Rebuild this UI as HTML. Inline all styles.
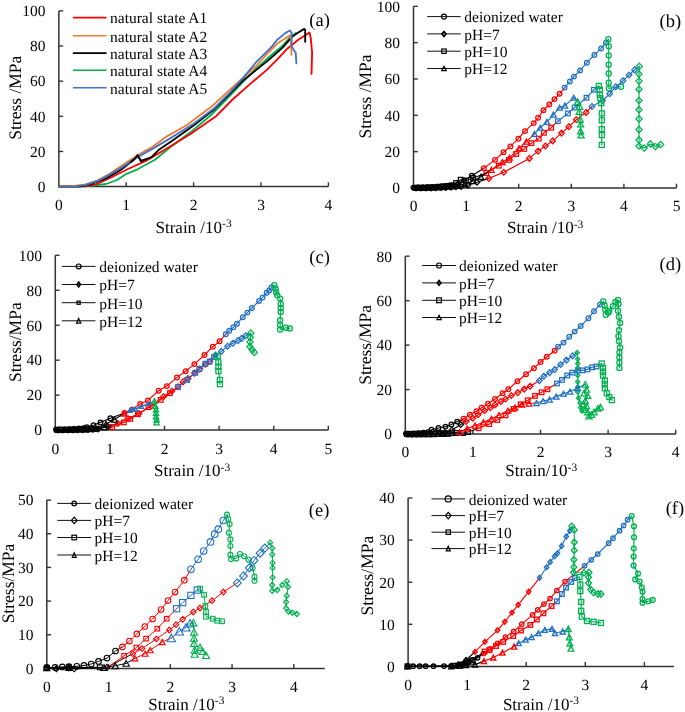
<!DOCTYPE html>
<html><head><meta charset="utf-8"><style>html,body{margin:0;padding:0;background:#fff;}svg{display:block;will-change:transform;}text{text-rendering:geometricPrecision;}</style></head>
<body><svg width="685" height="712" viewBox="0 0 685 712">
<rect width="685" height="712" fill="#fff"/>
<path d="M58.85 10.90V186.60H328.40" fill="none" stroke="#333" stroke-width="1.5"/>
<text x="45.45" y="191.90" text-anchor="end" font-family="Liberation Serif" font-size="15.5">0</text>
<path d="M58.85 151.46h4.3" stroke="#333" stroke-width="1.4"/>
<text x="45.45" y="156.76" text-anchor="end" font-family="Liberation Serif" font-size="15.5">20</text>
<path d="M58.85 116.32h4.3" stroke="#333" stroke-width="1.4"/>
<text x="45.45" y="121.62" text-anchor="end" font-family="Liberation Serif" font-size="15.5">40</text>
<path d="M58.85 81.18h4.3" stroke="#333" stroke-width="1.4"/>
<text x="45.45" y="86.48" text-anchor="end" font-family="Liberation Serif" font-size="15.5">60</text>
<path d="M58.85 46.04h4.3" stroke="#333" stroke-width="1.4"/>
<text x="45.45" y="51.34" text-anchor="end" font-family="Liberation Serif" font-size="15.5">80</text>
<path d="M58.85 10.90h4.3" stroke="#333" stroke-width="1.4"/>
<text x="45.45" y="16.20" text-anchor="end" font-family="Liberation Serif" font-size="15.5">100</text>
<text x="58.85" y="210.00" text-anchor="middle" font-family="Liberation Serif" font-size="15.5">0</text>
<path d="M126.24 186.60v-4.3" stroke="#333" stroke-width="1.4"/>
<text x="126.24" y="210.00" text-anchor="middle" font-family="Liberation Serif" font-size="15.5">1</text>
<path d="M193.62 186.60v-4.3" stroke="#333" stroke-width="1.4"/>
<text x="193.62" y="210.00" text-anchor="middle" font-family="Liberation Serif" font-size="15.5">2</text>
<path d="M261.01 186.60v-4.3" stroke="#333" stroke-width="1.4"/>
<text x="261.01" y="210.00" text-anchor="middle" font-family="Liberation Serif" font-size="15.5">3</text>
<path d="M328.40 186.60v-4.3" stroke="#333" stroke-width="1.4"/>
<text x="328.40" y="210.00" text-anchor="middle" font-family="Liberation Serif" font-size="15.5">4</text>
<path d="M413.50 6.30V188.00H676.50" fill="none" stroke="#333" stroke-width="1.5"/>
<text x="400.10" y="193.30" text-anchor="end" font-family="Liberation Serif" font-size="15.5">0</text>
<path d="M413.50 151.66h4.3" stroke="#333" stroke-width="1.4"/>
<text x="400.10" y="156.96" text-anchor="end" font-family="Liberation Serif" font-size="15.5">20</text>
<path d="M413.50 115.32h4.3" stroke="#333" stroke-width="1.4"/>
<text x="400.10" y="120.62" text-anchor="end" font-family="Liberation Serif" font-size="15.5">40</text>
<path d="M413.50 78.98h4.3" stroke="#333" stroke-width="1.4"/>
<text x="400.10" y="84.28" text-anchor="end" font-family="Liberation Serif" font-size="15.5">60</text>
<path d="M413.50 42.64h4.3" stroke="#333" stroke-width="1.4"/>
<text x="400.10" y="47.94" text-anchor="end" font-family="Liberation Serif" font-size="15.5">80</text>
<path d="M413.50 6.30h4.3" stroke="#333" stroke-width="1.4"/>
<text x="400.10" y="11.60" text-anchor="end" font-family="Liberation Serif" font-size="15.5">100</text>
<text x="413.50" y="211.40" text-anchor="middle" font-family="Liberation Serif" font-size="15.5">0</text>
<path d="M466.10 188.00v-4.3" stroke="#333" stroke-width="1.4"/>
<text x="466.10" y="211.40" text-anchor="middle" font-family="Liberation Serif" font-size="15.5">1</text>
<path d="M518.70 188.00v-4.3" stroke="#333" stroke-width="1.4"/>
<text x="518.70" y="211.40" text-anchor="middle" font-family="Liberation Serif" font-size="15.5">2</text>
<path d="M571.30 188.00v-4.3" stroke="#333" stroke-width="1.4"/>
<text x="571.30" y="211.40" text-anchor="middle" font-family="Liberation Serif" font-size="15.5">3</text>
<path d="M623.90 188.00v-4.3" stroke="#333" stroke-width="1.4"/>
<text x="623.90" y="211.40" text-anchor="middle" font-family="Liberation Serif" font-size="15.5">4</text>
<path d="M676.50 188.00v-4.3" stroke="#333" stroke-width="1.4"/>
<text x="676.50" y="211.40" text-anchor="middle" font-family="Liberation Serif" font-size="15.5">5</text>
<path d="M55.30 255.30V430.10H328.30" fill="none" stroke="#333" stroke-width="1.5"/>
<text x="41.90" y="435.40" text-anchor="end" font-family="Liberation Serif" font-size="15.5">0</text>
<path d="M55.30 395.14h4.3" stroke="#333" stroke-width="1.4"/>
<text x="41.90" y="400.44" text-anchor="end" font-family="Liberation Serif" font-size="15.5">20</text>
<path d="M55.30 360.18h4.3" stroke="#333" stroke-width="1.4"/>
<text x="41.90" y="365.48" text-anchor="end" font-family="Liberation Serif" font-size="15.5">40</text>
<path d="M55.30 325.22h4.3" stroke="#333" stroke-width="1.4"/>
<text x="41.90" y="330.52" text-anchor="end" font-family="Liberation Serif" font-size="15.5">60</text>
<path d="M55.30 290.26h4.3" stroke="#333" stroke-width="1.4"/>
<text x="41.90" y="295.56" text-anchor="end" font-family="Liberation Serif" font-size="15.5">80</text>
<path d="M55.30 255.30h4.3" stroke="#333" stroke-width="1.4"/>
<text x="41.90" y="260.60" text-anchor="end" font-family="Liberation Serif" font-size="15.5">100</text>
<text x="55.30" y="453.50" text-anchor="middle" font-family="Liberation Serif" font-size="15.5">0</text>
<path d="M109.90 430.10v-4.3" stroke="#333" stroke-width="1.4"/>
<text x="109.90" y="453.50" text-anchor="middle" font-family="Liberation Serif" font-size="15.5">1</text>
<path d="M164.50 430.10v-4.3" stroke="#333" stroke-width="1.4"/>
<text x="164.50" y="453.50" text-anchor="middle" font-family="Liberation Serif" font-size="15.5">2</text>
<path d="M219.10 430.10v-4.3" stroke="#333" stroke-width="1.4"/>
<text x="219.10" y="453.50" text-anchor="middle" font-family="Liberation Serif" font-size="15.5">3</text>
<path d="M273.70 430.10v-4.3" stroke="#333" stroke-width="1.4"/>
<text x="273.70" y="453.50" text-anchor="middle" font-family="Liberation Serif" font-size="15.5">4</text>
<path d="M328.30 430.10v-4.3" stroke="#333" stroke-width="1.4"/>
<text x="328.30" y="453.50" text-anchor="middle" font-family="Liberation Serif" font-size="15.5">5</text>
<path d="M405.30 256.20V434.00H675.70" fill="none" stroke="#333" stroke-width="1.5"/>
<text x="391.90" y="439.30" text-anchor="end" font-family="Liberation Serif" font-size="15.5">0</text>
<path d="M405.30 389.55h4.3" stroke="#333" stroke-width="1.4"/>
<text x="391.90" y="394.85" text-anchor="end" font-family="Liberation Serif" font-size="15.5">20</text>
<path d="M405.30 345.10h4.3" stroke="#333" stroke-width="1.4"/>
<text x="391.90" y="350.40" text-anchor="end" font-family="Liberation Serif" font-size="15.5">40</text>
<path d="M405.30 300.65h4.3" stroke="#333" stroke-width="1.4"/>
<text x="391.90" y="305.95" text-anchor="end" font-family="Liberation Serif" font-size="15.5">60</text>
<path d="M405.30 256.20h4.3" stroke="#333" stroke-width="1.4"/>
<text x="391.90" y="261.50" text-anchor="end" font-family="Liberation Serif" font-size="15.5">80</text>
<text x="405.30" y="457.40" text-anchor="middle" font-family="Liberation Serif" font-size="15.5">0</text>
<path d="M472.90 434.00v-4.3" stroke="#333" stroke-width="1.4"/>
<text x="472.90" y="457.40" text-anchor="middle" font-family="Liberation Serif" font-size="15.5">1</text>
<path d="M540.50 434.00v-4.3" stroke="#333" stroke-width="1.4"/>
<text x="540.50" y="457.40" text-anchor="middle" font-family="Liberation Serif" font-size="15.5">2</text>
<path d="M608.10 434.00v-4.3" stroke="#333" stroke-width="1.4"/>
<text x="608.10" y="457.40" text-anchor="middle" font-family="Liberation Serif" font-size="15.5">3</text>
<path d="M675.70 434.00v-4.3" stroke="#333" stroke-width="1.4"/>
<text x="675.70" y="457.40" text-anchor="middle" font-family="Liberation Serif" font-size="15.5">4</text>
<path d="M46.80 500.10V668.40H324.70" fill="none" stroke="#333" stroke-width="1.5"/>
<text x="33.40" y="673.70" text-anchor="end" font-family="Liberation Serif" font-size="15.5">0</text>
<path d="M46.80 634.74h4.3" stroke="#333" stroke-width="1.4"/>
<text x="33.40" y="640.04" text-anchor="end" font-family="Liberation Serif" font-size="15.5">10</text>
<path d="M46.80 601.08h4.3" stroke="#333" stroke-width="1.4"/>
<text x="33.40" y="606.38" text-anchor="end" font-family="Liberation Serif" font-size="15.5">20</text>
<path d="M46.80 567.42h4.3" stroke="#333" stroke-width="1.4"/>
<text x="33.40" y="572.72" text-anchor="end" font-family="Liberation Serif" font-size="15.5">30</text>
<path d="M46.80 533.76h4.3" stroke="#333" stroke-width="1.4"/>
<text x="33.40" y="539.06" text-anchor="end" font-family="Liberation Serif" font-size="15.5">40</text>
<path d="M46.80 500.10h4.3" stroke="#333" stroke-width="1.4"/>
<text x="33.40" y="505.40" text-anchor="end" font-family="Liberation Serif" font-size="15.5">50</text>
<text x="46.80" y="691.80" text-anchor="middle" font-family="Liberation Serif" font-size="15.5">0</text>
<path d="M108.56 668.40v-4.3" stroke="#333" stroke-width="1.4"/>
<text x="108.56" y="691.80" text-anchor="middle" font-family="Liberation Serif" font-size="15.5">1</text>
<path d="M170.31 668.40v-4.3" stroke="#333" stroke-width="1.4"/>
<text x="170.31" y="691.80" text-anchor="middle" font-family="Liberation Serif" font-size="15.5">2</text>
<path d="M232.07 668.40v-4.3" stroke="#333" stroke-width="1.4"/>
<text x="232.07" y="691.80" text-anchor="middle" font-family="Liberation Serif" font-size="15.5">3</text>
<path d="M293.82 668.40v-4.3" stroke="#333" stroke-width="1.4"/>
<text x="293.82" y="691.80" text-anchor="middle" font-family="Liberation Serif" font-size="15.5">4</text>
<path d="M408.10 498.00V666.40H673.90" fill="none" stroke="#333" stroke-width="1.5"/>
<text x="394.70" y="671.70" text-anchor="end" font-family="Liberation Serif" font-size="15.5">0</text>
<path d="M408.10 624.30h4.3" stroke="#333" stroke-width="1.4"/>
<text x="394.70" y="629.60" text-anchor="end" font-family="Liberation Serif" font-size="15.5">10</text>
<path d="M408.10 582.20h4.3" stroke="#333" stroke-width="1.4"/>
<text x="394.70" y="587.50" text-anchor="end" font-family="Liberation Serif" font-size="15.5">20</text>
<path d="M408.10 540.10h4.3" stroke="#333" stroke-width="1.4"/>
<text x="394.70" y="545.40" text-anchor="end" font-family="Liberation Serif" font-size="15.5">30</text>
<path d="M408.10 498.00h4.3" stroke="#333" stroke-width="1.4"/>
<text x="394.70" y="503.30" text-anchor="end" font-family="Liberation Serif" font-size="15.5">40</text>
<text x="408.10" y="689.80" text-anchor="middle" font-family="Liberation Serif" font-size="15.5">0</text>
<path d="M467.17 666.40v-4.3" stroke="#333" stroke-width="1.4"/>
<text x="467.17" y="689.80" text-anchor="middle" font-family="Liberation Serif" font-size="15.5">1</text>
<path d="M526.23 666.40v-4.3" stroke="#333" stroke-width="1.4"/>
<text x="526.23" y="689.80" text-anchor="middle" font-family="Liberation Serif" font-size="15.5">2</text>
<path d="M585.30 666.40v-4.3" stroke="#333" stroke-width="1.4"/>
<text x="585.30" y="689.80" text-anchor="middle" font-family="Liberation Serif" font-size="15.5">3</text>
<path d="M644.37 666.40v-4.3" stroke="#333" stroke-width="1.4"/>
<text x="644.37" y="689.80" text-anchor="middle" font-family="Liberation Serif" font-size="15.5">4</text>
<text x="193.60" y="232.70" text-anchor="middle" font-family="Liberation Serif" font-size="17">Strain /10<tspan font-size="11.5" dy="-5.5">-3</tspan></text>
<text x="545.20" y="233.00" text-anchor="middle" font-family="Liberation Serif" font-size="17">Strain /10<tspan font-size="11.5" dy="-5.5">-3</tspan></text>
<text x="192.10" y="476.30" text-anchor="middle" font-family="Liberation Serif" font-size="17">Strain /10<tspan font-size="11.5" dy="-5.5">-3</tspan></text>
<text x="541.20" y="476.30" text-anchor="middle" font-family="Liberation Serif" font-size="17">Strain/10<tspan font-size="11.5" dy="-5.5">-3</tspan></text>
<text x="186.30" y="709.70" text-anchor="middle" font-family="Liberation Serif" font-size="17">Strain /10<tspan font-size="11.5" dy="-5.5">-3</tspan></text>
<text x="541.00" y="709.70" text-anchor="middle" font-family="Liberation Serif" font-size="17">Strain /10<tspan font-size="11.5" dy="-5.5">-3</tspan></text>
<text transform="translate(21.30 97.75) rotate(-90)" x="0" y="0" text-anchor="middle" font-family="Liberation Serif" font-size="17.5">Stress /MPa</text>
<text transform="translate(371.30 96.50) rotate(-90)" x="0" y="0" text-anchor="middle" font-family="Liberation Serif" font-size="17.5">Stress /MPa</text>
<text transform="translate(21.30 342.20) rotate(-90)" x="0" y="0" text-anchor="middle" font-family="Liberation Serif" font-size="17.5">Stress/MPa</text>
<text transform="translate(371.30 344.90) rotate(-90)" x="0" y="0" text-anchor="middle" font-family="Liberation Serif" font-size="17.5">Stress/MPa</text>
<text transform="translate(13.50 583.50) rotate(-90)" x="0" y="0" text-anchor="middle" font-family="Liberation Serif" font-size="17.5">Stress/MPa</text>
<text transform="translate(373.30 575.60) rotate(-90)" x="0" y="0" text-anchor="middle" font-family="Liberation Serif" font-size="17.5">Stress/MPa</text>
<text x="309.30" y="26.30" font-family="Liberation Serif" font-size="18.5">(a)</text>
<text x="659.50" y="26.60" font-family="Liberation Serif" font-size="18.5">(b)</text>
<text x="309.30" y="263.00" font-family="Liberation Serif" font-size="18.5">(c)</text>
<text x="659.50" y="269.90" font-family="Liberation Serif" font-size="18.5">(d)</text>
<text x="308.80" y="515.80" font-family="Liberation Serif" font-size="18.5">(e)</text>
<text x="665.70" y="513.60" font-family="Liberation Serif" font-size="18.5">(f)</text>
<path d="M72.9 17.60H106.5" stroke="#FF0000" stroke-width="1.6"/>
<text x="110" y="23.40" font-family="Liberation Serif" font-size="15.5">natural state A1</text>
<path d="M72.9 35.70H106.5" stroke="#ED7D31" stroke-width="1.6"/>
<text x="110" y="41.50" font-family="Liberation Serif" font-size="15.5">natural state A2</text>
<path d="M72.9 53.10H106.5" stroke="#000000" stroke-width="1.6"/>
<text x="110" y="58.90" font-family="Liberation Serif" font-size="15.5">natural state A3</text>
<path d="M72.9 70.20H106.5" stroke="#00B050" stroke-width="1.6"/>
<text x="110" y="76.00" font-family="Liberation Serif" font-size="15.5">natural state A4</text>
<path d="M72.9 87.80H106.5" stroke="#4472C4" stroke-width="1.6"/>
<text x="110" y="93.60" font-family="Liberation Serif" font-size="15.5">natural state A5</text>
<path d="M427.20 16.60H460.70" stroke="#111" stroke-width="1.0"/>
<circle cx="443.95" cy="16.60" r="2.50" fill="none" stroke="#000" stroke-width="1.2"/>
<text x="464.30" y="22.40" font-family="Liberation Serif" font-size="15.5">deionized water</text>
<path d="M427.20 33.90H460.70" stroke="#111" stroke-width="1.0"/>
<path d="M443.95 31.40L446.05 33.90L443.95 36.40L441.85 33.90Z" fill="none" stroke="#000" stroke-width="1.6"/>
<text x="464.30" y="39.70" font-family="Liberation Serif" font-size="15.5">pH=7</text>
<path d="M427.20 51.20H460.70" stroke="#111" stroke-width="1.0"/>
<rect x="441.75" y="49.00" width="4.40" height="4.40" fill="none" stroke="#000" stroke-width="1.2"/>
<text x="464.30" y="57.00" font-family="Liberation Serif" font-size="15.5">pH=10</text>
<path d="M427.20 68.50H460.70" stroke="#111" stroke-width="1.0"/>
<path d="M443.95 66.30L446.25 70.70L441.65 70.70Z" fill="none" stroke="#000" stroke-width="1.2" stroke-linejoin="miter"/>
<text x="464.30" y="74.30" font-family="Liberation Serif" font-size="15.5">pH=12</text>
<path d="M61.80 266.40H95.50" stroke="#111" stroke-width="1.0"/>
<circle cx="78.65" cy="266.40" r="2.40" fill="none" stroke="#000" stroke-width="1.2"/>
<text x="99.30" y="272.20" font-family="Liberation Serif" font-size="15.5">deionized water</text>
<path d="M61.80 284.50H95.50" stroke="#111" stroke-width="1.0"/>
<path d="M78.65 282.10L80.45 284.50L78.65 286.90L76.85 284.50Z" fill="none" stroke="#000" stroke-width="1.6"/>
<text x="99.30" y="290.30" font-family="Liberation Serif" font-size="15.5">pH=7</text>
<path d="M61.80 302.70H95.50" stroke="#111" stroke-width="1.0"/>
<rect x="77.05" y="301.10" width="3.20" height="3.20" fill="none" stroke="#000" stroke-width="1.2"/>
<text x="99.30" y="308.50" font-family="Liberation Serif" font-size="15.5">pH=10</text>
<path d="M61.80 320.80H95.50" stroke="#111" stroke-width="1.0"/>
<path d="M78.65 318.50L80.75 323.10L76.55 323.10Z" fill="none" stroke="#000" stroke-width="1.2" stroke-linejoin="miter"/>
<text x="99.30" y="326.60" font-family="Liberation Serif" font-size="15.5">pH=12</text>
<path d="M422.10 265.50H456.00" stroke="#111" stroke-width="1.0"/>
<circle cx="439.05" cy="265.50" r="2.50" fill="none" stroke="#000" stroke-width="1.2"/>
<text x="459.00" y="271.30" font-family="Liberation Serif" font-size="15.5">deionized water</text>
<path d="M422.10 282.90H456.00" stroke="#111" stroke-width="1.0"/>
<path d="M439.05 280.60L440.85 282.90L439.05 285.20L437.25 282.90Z" fill="none" stroke="#000" stroke-width="1.7"/>
<text x="459.00" y="288.70" font-family="Liberation Serif" font-size="15.5">pH=7</text>
<path d="M422.10 300.30H456.00" stroke="#111" stroke-width="1.0"/>
<rect x="436.65" y="297.90" width="4.80" height="4.80" fill="none" stroke="#000" stroke-width="1.2"/>
<text x="459.00" y="306.10" font-family="Liberation Serif" font-size="15.5">pH=10</text>
<path d="M422.10 317.50H456.00" stroke="#111" stroke-width="1.0"/>
<path d="M439.05 315.30L441.25 319.70L436.85 319.70Z" fill="none" stroke="#000" stroke-width="1.2" stroke-linejoin="miter"/>
<text x="459.00" y="323.30" font-family="Liberation Serif" font-size="15.5">pH=12</text>
<path d="M57.30 503.40H91.10" stroke="#111" stroke-width="1.0"/>
<circle cx="74.20" cy="503.40" r="2.30" fill="none" stroke="#000" stroke-width="1.2"/>
<text x="94.60" y="509.20" font-family="Liberation Serif" font-size="15.5">deionized water</text>
<path d="M57.30 520.40H91.10" stroke="#111" stroke-width="1.0"/>
<path d="M74.20 517.20L77.00 520.40L74.20 523.60L71.40 520.40Z" fill="none" stroke="#000" stroke-width="1.2"/>
<text x="94.60" y="526.20" font-family="Liberation Serif" font-size="15.5">pH=7</text>
<path d="M57.30 537.50H91.10" stroke="#111" stroke-width="1.0"/>
<rect x="71.90" y="535.20" width="4.60" height="4.60" fill="none" stroke="#000" stroke-width="1.2"/>
<text x="94.60" y="543.30" font-family="Liberation Serif" font-size="15.5">pH=10</text>
<path d="M57.30 555.00H91.10" stroke="#111" stroke-width="1.0"/>
<path d="M74.20 552.70L76.10 557.30L72.30 557.30Z" fill="none" stroke="#000" stroke-width="1.2" stroke-linejoin="miter"/>
<text x="94.60" y="560.80" font-family="Liberation Serif" font-size="15.5">pH=12</text>
<path d="M431.50 498.90H465.00" stroke="#111" stroke-width="1.0"/>
<circle cx="448.25" cy="498.90" r="3.10" fill="none" stroke="#000" stroke-width="1.2"/>
<text x="468.70" y="504.70" font-family="Liberation Serif" font-size="15.5">deionized water</text>
<path d="M431.50 515.60H465.00" stroke="#111" stroke-width="1.0"/>
<path d="M448.25 512.40L451.05 515.60L448.25 518.80L445.45 515.60Z" fill="none" stroke="#000" stroke-width="1.2"/>
<text x="468.70" y="521.40" font-family="Liberation Serif" font-size="15.5">pH=7</text>
<path d="M431.50 532.20H465.00" stroke="#111" stroke-width="1.0"/>
<rect x="446.05" y="530.00" width="4.40" height="4.40" fill="none" stroke="#000" stroke-width="1.2"/>
<text x="468.70" y="538.00" font-family="Liberation Serif" font-size="15.5">pH=10</text>
<path d="M431.50 548.60H465.00" stroke="#111" stroke-width="1.0"/>
<path d="M448.25 546.30L450.25 550.90L446.25 550.90Z" fill="none" stroke="#000" stroke-width="1.2" stroke-linejoin="miter"/>
<text x="468.70" y="554.40" font-family="Liberation Serif" font-size="15.5">pH=12</text>
<path d="M58.85 186.60 L85.00 186.30 L106.10 184.00 L117.00 180.00 L126.50 173.80 L137.50 169.30 L155.00 159.70 L169.00 148.30 L190.10 132.60 L211.10 115.00 L230.00 95.50 L243.10 81.80 L256.30 68.60 L269.40 56.80 L282.60 45.60 L289.10 38.40 L295.70 33.10" fill="none" stroke="#00B050" stroke-width="1.85" stroke-linejoin="round" stroke-linecap="round"/>
<path d="M58.85 186.60 L85.00 186.20 L95.90 184.40 L110.00 178.00 L128.00 169.00 L146.30 160.60 L165.50 149.20 L190.10 134.30 L216.40 115.90 L232.60 99.50 L249.70 84.40 L266.80 69.90 L277.30 59.40 L287.80 48.20 L298.30 39.70 L309.50 32.50 L310.80 38.40 L312.10 52.80 L311.50 73.90" fill="none" stroke="#FF0000" stroke-width="1.85" stroke-linejoin="round" stroke-linecap="round"/>
<path d="M58.85 186.60 L80.00 186.30 L90.00 184.50 L105.00 179.00 L120.00 170.50 L134.00 159.50 L137.60 155.20 L141.00 161.00 L151.50 157.10 L158.50 150.10 L172.60 140.40 L193.60 125.50 L214.60 108.90 L230.00 93.60 L243.10 80.40 L256.30 69.90 L269.40 59.40 L282.60 47.60 L291.80 37.10 L298.30 32.50 L304.20 28.90 L305.20 29.90 L305.20 41.70" fill="none" stroke="#000000" stroke-width="1.85" stroke-linejoin="round" stroke-linecap="round"/>
<path d="M58.85 186.60 L72.00 186.20 L85.70 184.50 L95.90 181.20 L110.00 173.50 L120.00 166.70 L137.50 155.30 L151.50 147.40 L167.30 136.10 L186.60 125.20 L212.90 105.40 L230.00 89.60 L243.10 77.80 L256.30 66.00 L266.80 54.20 L277.30 43.60 L285.20 38.40 L290.40 35.10 L291.10 43.60 L291.50 54.80" fill="none" stroke="#ED7D31" stroke-width="1.85" stroke-linejoin="round" stroke-linecap="round"/>
<path d="M58.85 186.60 L75.00 186.30 L85.70 184.80 L100.00 180.00 L120.00 168.50 L137.50 157.10 L155.00 147.40 L172.60 136.90 L193.60 123.80 L214.60 108.00 L230.00 92.30 L243.10 77.80 L256.30 62.00 L265.50 52.80 L272.00 46.30 L277.30 39.70 L285.20 33.10 L289.80 30.50 L291.80 33.10 L291.50 46.30 L294.40 50.90 L295.70 52.80 L296.40 63.40" fill="none" stroke="#4472C4" stroke-width="1.85" stroke-linejoin="round" stroke-linecap="round"/>
<path d="M131.00 162.00 L134.00 159.50 L137.60 155.20 L141.00 161.00 L146.00 159.30" fill="none" stroke="#000000" stroke-width="1.85" stroke-linejoin="round" stroke-linecap="round"/>
<path d="M413.50 187.60 L418.30 187.57 L423.10 187.47 L427.90 187.32 L432.70 187.10 L437.50 186.82 L442.30 186.47 L447.10 186.07 L451.90 185.60 L458.00 184.20 L464.00 180.50 L471.80 175.80 L483.80 168.30" fill="none" stroke="#000000" stroke-width="1.15" stroke-linejoin="round" stroke-linecap="round"/>
<path d="M483.80 168.30 L495.00 159.90 L503.50 152.30 L510.40 146.40 L518.40 138.70 L525.00 131.10 L533.70 123.10 L538.10 117.80 L543.50 110.20 L549.30 104.40 L554.50 99.10 L559.60 93.80 L564.70 87.60" fill="none" stroke="#FF0000" stroke-width="1.15" stroke-linejoin="round" stroke-linecap="round"/>
<path d="M564.70 87.60 L569.90 81.50 L573.90 76.60 L580.10 70.50 L586.80 62.70 L594.40 54.90 L601.10 48.40 L606.00 42.70 L608.30 39.20" fill="none" stroke="#1F6FC4" stroke-width="1.15" stroke-linejoin="round" stroke-linecap="round"/>
<path d="M608.30 39.20 L608.70 46.30 L608.70 55.50 L608.70 64.70 L608.70 73.50 L608.70 82.70 L609.00 88.50 L621.00 86.80" fill="none" stroke="#00B050" stroke-width="1.15" stroke-linejoin="round" stroke-linecap="round"/>
<circle cx="413.50" cy="187.60" r="2.35" fill="none" stroke="#000000" stroke-width="1.25"/>
<circle cx="418.30" cy="187.57" r="2.35" fill="none" stroke="#000000" stroke-width="1.25"/>
<circle cx="423.10" cy="187.47" r="2.35" fill="none" stroke="#000000" stroke-width="1.25"/>
<circle cx="427.90" cy="187.32" r="2.35" fill="none" stroke="#000000" stroke-width="1.25"/>
<circle cx="432.70" cy="187.10" r="2.35" fill="none" stroke="#000000" stroke-width="1.25"/>
<circle cx="437.50" cy="186.82" r="2.35" fill="none" stroke="#000000" stroke-width="1.25"/>
<circle cx="442.30" cy="186.47" r="2.35" fill="none" stroke="#000000" stroke-width="1.25"/>
<circle cx="447.10" cy="186.07" r="2.35" fill="none" stroke="#000000" stroke-width="1.25"/>
<circle cx="451.90" cy="185.60" r="2.35" fill="none" stroke="#000000" stroke-width="1.25"/>
<circle cx="458.00" cy="184.20" r="2.35" fill="none" stroke="#000000" stroke-width="1.25"/>
<circle cx="464.00" cy="180.50" r="2.35" fill="none" stroke="#000000" stroke-width="1.25"/>
<circle cx="471.80" cy="175.80" r="2.35" fill="none" stroke="#000000" stroke-width="1.25"/>
<circle cx="483.80" cy="168.30" r="2.35" fill="none" stroke="#FF0000" stroke-width="1.25"/>
<circle cx="495.00" cy="159.90" r="2.35" fill="none" stroke="#FF0000" stroke-width="1.25"/>
<circle cx="503.50" cy="152.30" r="2.35" fill="none" stroke="#FF0000" stroke-width="1.25"/>
<circle cx="510.40" cy="146.40" r="2.35" fill="none" stroke="#FF0000" stroke-width="1.25"/>
<circle cx="518.40" cy="138.70" r="2.35" fill="none" stroke="#FF0000" stroke-width="1.25"/>
<circle cx="525.00" cy="131.10" r="2.35" fill="none" stroke="#FF0000" stroke-width="1.25"/>
<circle cx="533.70" cy="123.10" r="2.35" fill="none" stroke="#FF0000" stroke-width="1.25"/>
<circle cx="538.10" cy="117.80" r="2.35" fill="none" stroke="#FF0000" stroke-width="1.25"/>
<circle cx="543.50" cy="110.20" r="2.35" fill="none" stroke="#FF0000" stroke-width="1.25"/>
<circle cx="549.30" cy="104.40" r="2.35" fill="none" stroke="#FF0000" stroke-width="1.25"/>
<circle cx="554.50" cy="99.10" r="2.35" fill="none" stroke="#FF0000" stroke-width="1.25"/>
<circle cx="559.60" cy="93.80" r="2.35" fill="none" stroke="#FF0000" stroke-width="1.25"/>
<circle cx="564.70" cy="87.60" r="2.35" fill="none" stroke="#1F6FC4" stroke-width="1.25"/>
<circle cx="569.90" cy="81.50" r="2.35" fill="none" stroke="#1F6FC4" stroke-width="1.25"/>
<circle cx="573.90" cy="76.60" r="2.35" fill="none" stroke="#1F6FC4" stroke-width="1.25"/>
<circle cx="580.10" cy="70.50" r="2.35" fill="none" stroke="#1F6FC4" stroke-width="1.25"/>
<circle cx="586.80" cy="62.70" r="2.35" fill="none" stroke="#1F6FC4" stroke-width="1.25"/>
<circle cx="594.40" cy="54.90" r="2.35" fill="none" stroke="#1F6FC4" stroke-width="1.25"/>
<circle cx="601.10" cy="48.40" r="2.35" fill="none" stroke="#1F6FC4" stroke-width="1.25"/>
<circle cx="606.00" cy="42.70" r="2.35" fill="none" stroke="#1F6FC4" stroke-width="1.25"/>
<circle cx="608.30" cy="39.20" r="2.59" fill="none" stroke="#00B050" stroke-width="1.25"/>
<circle cx="608.70" cy="46.30" r="2.59" fill="none" stroke="#00B050" stroke-width="1.25"/>
<circle cx="608.70" cy="55.50" r="2.59" fill="none" stroke="#00B050" stroke-width="1.25"/>
<circle cx="608.70" cy="64.70" r="2.59" fill="none" stroke="#00B050" stroke-width="1.25"/>
<circle cx="608.70" cy="73.50" r="2.59" fill="none" stroke="#00B050" stroke-width="1.25"/>
<circle cx="608.70" cy="82.70" r="2.59" fill="none" stroke="#00B050" stroke-width="1.25"/>
<circle cx="609.00" cy="88.50" r="2.59" fill="none" stroke="#00B050" stroke-width="1.25"/>
<circle cx="621.00" cy="86.80" r="2.59" fill="none" stroke="#00B050" stroke-width="1.25"/>
<path d="M416.00 188.00 L421.00 187.98 L426.00 187.93 L431.00 187.83 L436.00 187.70 L441.00 187.54 L446.00 187.33 L451.00 187.09 L456.00 186.81 L461.00 186.50 L468.00 185.00 L477.00 182.30 L488.80 178.40" fill="none" stroke="#000000" stroke-width="1.15" stroke-linejoin="round" stroke-linecap="round"/>
<path d="M488.80 178.40 L503.80 172.30 L529.30 158.40 L538.10 151.10 L545.40 146.00 L552.70 140.90 L561.50 133.10 L568.80 126.70 L576.20 119.80 L586.10 112.40 L592.00 106.50" fill="none" stroke="#FF0000" stroke-width="1.15" stroke-linejoin="round" stroke-linecap="round"/>
<path d="M592.00 106.50 L602.60 100.50 L609.70 93.80 L615.80 86.80 L623.00 80.70 L629.10 75.00 L634.60 69.90 L639.30 66.40" fill="none" stroke="#1F6FC4" stroke-width="1.15" stroke-linejoin="round" stroke-linecap="round"/>
<path d="M639.30 66.40 L639.00 74.00 L639.00 81.10 L639.00 89.30 L639.00 100.50 L639.00 109.70 L639.00 118.90 L639.00 129.60 L639.00 139.90 L639.00 146.00 L644.20 148.00 L650.40 143.90 L655.50 146.60 L660.60 144.60" fill="none" stroke="#00B050" stroke-width="1.15" stroke-linejoin="round" stroke-linecap="round"/>
<path d="M416.00 185.10L418.80 188.00L416.00 190.90L413.20 188.00Z" fill="none" stroke="#000000" stroke-width="1.25"/>
<path d="M421.00 185.08L423.80 187.98L421.00 190.88L418.20 187.98Z" fill="none" stroke="#000000" stroke-width="1.25"/>
<path d="M426.00 185.03L428.80 187.93L426.00 190.83L423.20 187.93Z" fill="none" stroke="#000000" stroke-width="1.25"/>
<path d="M431.00 184.93L433.80 187.83L431.00 190.73L428.20 187.83Z" fill="none" stroke="#000000" stroke-width="1.25"/>
<path d="M436.00 184.80L438.80 187.70L436.00 190.60L433.20 187.70Z" fill="none" stroke="#000000" stroke-width="1.25"/>
<path d="M441.00 184.64L443.80 187.54L441.00 190.44L438.20 187.54Z" fill="none" stroke="#000000" stroke-width="1.25"/>
<path d="M446.00 184.43L448.80 187.33L446.00 190.23L443.20 187.33Z" fill="none" stroke="#000000" stroke-width="1.25"/>
<path d="M451.00 184.19L453.80 187.09L451.00 189.99L448.20 187.09Z" fill="none" stroke="#000000" stroke-width="1.25"/>
<path d="M456.00 183.91L458.80 186.81L456.00 189.71L453.20 186.81Z" fill="none" stroke="#000000" stroke-width="1.25"/>
<path d="M461.00 183.60L463.80 186.50L461.00 189.40L458.20 186.50Z" fill="none" stroke="#000000" stroke-width="1.25"/>
<path d="M468.00 182.10L470.80 185.00L468.00 187.90L465.20 185.00Z" fill="none" stroke="#000000" stroke-width="1.25"/>
<path d="M477.00 179.40L479.80 182.30L477.00 185.20L474.20 182.30Z" fill="none" stroke="#000000" stroke-width="1.25"/>
<path d="M488.80 175.50L491.60 178.40L488.80 181.30L486.00 178.40Z" fill="none" stroke="#FF0000" stroke-width="1.25"/>
<path d="M503.80 169.40L506.60 172.30L503.80 175.20L501.00 172.30Z" fill="none" stroke="#FF0000" stroke-width="1.25"/>
<path d="M529.30 155.50L532.10 158.40L529.30 161.30L526.50 158.40Z" fill="none" stroke="#FF0000" stroke-width="1.25"/>
<path d="M538.10 148.20L540.90 151.10L538.10 154.00L535.30 151.10Z" fill="none" stroke="#FF0000" stroke-width="1.25"/>
<path d="M545.40 143.10L548.20 146.00L545.40 148.90L542.60 146.00Z" fill="none" stroke="#FF0000" stroke-width="1.25"/>
<path d="M552.70 138.00L555.50 140.90L552.70 143.80L549.90 140.90Z" fill="none" stroke="#FF0000" stroke-width="1.25"/>
<path d="M561.50 130.20L564.30 133.10L561.50 136.00L558.70 133.10Z" fill="none" stroke="#FF0000" stroke-width="1.25"/>
<path d="M568.80 123.80L571.60 126.70L568.80 129.60L566.00 126.70Z" fill="none" stroke="#FF0000" stroke-width="1.25"/>
<path d="M576.20 116.90L579.00 119.80L576.20 122.70L573.40 119.80Z" fill="none" stroke="#FF0000" stroke-width="1.25"/>
<path d="M586.10 109.50L588.90 112.40L586.10 115.30L583.30 112.40Z" fill="none" stroke="#FF0000" stroke-width="1.25"/>
<path d="M592.00 103.60L594.80 106.50L592.00 109.40L589.20 106.50Z" fill="none" stroke="#1F6FC4" stroke-width="1.25"/>
<path d="M602.60 97.60L605.40 100.50L602.60 103.40L599.80 100.50Z" fill="none" stroke="#1F6FC4" stroke-width="1.25"/>
<path d="M609.70 90.90L612.50 93.80L609.70 96.70L606.90 93.80Z" fill="none" stroke="#1F6FC4" stroke-width="1.25"/>
<path d="M615.80 83.90L618.60 86.80L615.80 89.70L613.00 86.80Z" fill="none" stroke="#1F6FC4" stroke-width="1.25"/>
<path d="M623.00 77.80L625.80 80.70L623.00 83.60L620.20 80.70Z" fill="none" stroke="#1F6FC4" stroke-width="1.25"/>
<path d="M629.10 72.10L631.90 75.00L629.10 77.90L626.30 75.00Z" fill="none" stroke="#1F6FC4" stroke-width="1.25"/>
<path d="M634.60 67.00L637.40 69.90L634.60 72.80L631.80 69.90Z" fill="none" stroke="#1F6FC4" stroke-width="1.25"/>
<path d="M639.30 63.21L642.38 66.40L639.30 69.59L636.22 66.40Z" fill="none" stroke="#00B050" stroke-width="1.25"/>
<path d="M639.00 70.81L642.08 74.00L639.00 77.19L635.92 74.00Z" fill="none" stroke="#00B050" stroke-width="1.25"/>
<path d="M639.00 77.91L642.08 81.10L639.00 84.29L635.92 81.10Z" fill="none" stroke="#00B050" stroke-width="1.25"/>
<path d="M639.00 86.11L642.08 89.30L639.00 92.49L635.92 89.30Z" fill="none" stroke="#00B050" stroke-width="1.25"/>
<path d="M639.00 97.31L642.08 100.50L639.00 103.69L635.92 100.50Z" fill="none" stroke="#00B050" stroke-width="1.25"/>
<path d="M639.00 106.51L642.08 109.70L639.00 112.89L635.92 109.70Z" fill="none" stroke="#00B050" stroke-width="1.25"/>
<path d="M639.00 115.71L642.08 118.90L639.00 122.09L635.92 118.90Z" fill="none" stroke="#00B050" stroke-width="1.25"/>
<path d="M639.00 126.41L642.08 129.60L639.00 132.79L635.92 129.60Z" fill="none" stroke="#00B050" stroke-width="1.25"/>
<path d="M639.00 136.71L642.08 139.90L639.00 143.09L635.92 139.90Z" fill="none" stroke="#00B050" stroke-width="1.25"/>
<path d="M639.00 142.81L642.08 146.00L639.00 149.19L635.92 146.00Z" fill="none" stroke="#00B050" stroke-width="1.25"/>
<path d="M644.20 144.81L647.28 148.00L644.20 151.19L641.12 148.00Z" fill="none" stroke="#00B050" stroke-width="1.25"/>
<path d="M650.40 140.71L653.48 143.90L650.40 147.09L647.32 143.90Z" fill="none" stroke="#00B050" stroke-width="1.25"/>
<path d="M655.50 143.41L658.58 146.60L655.50 149.79L652.42 146.60Z" fill="none" stroke="#00B050" stroke-width="1.25"/>
<path d="M660.60 141.41L663.68 144.60L660.60 147.79L657.52 144.60Z" fill="none" stroke="#00B050" stroke-width="1.25"/>
<path d="M415.00 187.80 L419.60 187.76 L424.20 187.64 L428.80 187.45 L433.40 187.18 L438.00 186.82 L442.60 186.39 L447.20 185.89 L451.80 185.30 L456.00 183.00 L460.60 179.70 L466.00 180.50 L473.00 178.00 L486.30 173.00" fill="none" stroke="#000000" stroke-width="1.15" stroke-linejoin="round" stroke-linecap="round"/>
<path d="M486.30 173.00 L498.70 165.70 L508.90 159.90 L516.20 154.00 L524.20 148.90 L531.50 143.10 L538.80 138.70 L543.90 132.80 L551.20 127.70 L557.80 121.20" fill="none" stroke="#FF0000" stroke-width="1.15" stroke-linejoin="round" stroke-linecap="round"/>
<path d="M557.80 121.20 L567.90 113.40 L574.70 107.50 L586.50 97.70 L593.90 89.80 L598.80 85.90" fill="none" stroke="#1F6FC4" stroke-width="1.15" stroke-linejoin="round" stroke-linecap="round"/>
<path d="M598.80 85.90 L599.80 89.80 L599.80 94.70 L600.30 98.20 L601.30 103.10 L601.80 113.40 L601.80 120.30 L601.80 129.20 L601.80 135.10 L601.80 144.90" fill="none" stroke="#00B050" stroke-width="1.15" stroke-linejoin="round" stroke-linecap="round"/>
<rect x="412.70" y="185.50" width="4.60" height="4.60" fill="none" stroke="#000000" stroke-width="1.25"/>
<rect x="417.30" y="185.46" width="4.60" height="4.60" fill="none" stroke="#000000" stroke-width="1.25"/>
<rect x="421.90" y="185.34" width="4.60" height="4.60" fill="none" stroke="#000000" stroke-width="1.25"/>
<rect x="426.50" y="185.15" width="4.60" height="4.60" fill="none" stroke="#000000" stroke-width="1.25"/>
<rect x="431.10" y="184.88" width="4.60" height="4.60" fill="none" stroke="#000000" stroke-width="1.25"/>
<rect x="435.70" y="184.52" width="4.60" height="4.60" fill="none" stroke="#000000" stroke-width="1.25"/>
<rect x="440.30" y="184.09" width="4.60" height="4.60" fill="none" stroke="#000000" stroke-width="1.25"/>
<rect x="444.90" y="183.59" width="4.60" height="4.60" fill="none" stroke="#000000" stroke-width="1.25"/>
<rect x="449.50" y="183.00" width="4.60" height="4.60" fill="none" stroke="#000000" stroke-width="1.25"/>
<rect x="453.70" y="180.70" width="4.60" height="4.60" fill="none" stroke="#000000" stroke-width="1.25"/>
<rect x="458.30" y="177.40" width="4.60" height="4.60" fill="none" stroke="#000000" stroke-width="1.25"/>
<rect x="463.70" y="178.20" width="4.60" height="4.60" fill="none" stroke="#000000" stroke-width="1.25"/>
<rect x="470.70" y="175.70" width="4.60" height="4.60" fill="none" stroke="#000000" stroke-width="1.25"/>
<rect x="484.00" y="170.70" width="4.60" height="4.60" fill="none" stroke="#FF0000" stroke-width="1.25"/>
<rect x="496.40" y="163.40" width="4.60" height="4.60" fill="none" stroke="#FF0000" stroke-width="1.25"/>
<rect x="506.60" y="157.60" width="4.60" height="4.60" fill="none" stroke="#FF0000" stroke-width="1.25"/>
<rect x="513.90" y="151.70" width="4.60" height="4.60" fill="none" stroke="#FF0000" stroke-width="1.25"/>
<rect x="521.90" y="146.60" width="4.60" height="4.60" fill="none" stroke="#FF0000" stroke-width="1.25"/>
<rect x="529.20" y="140.80" width="4.60" height="4.60" fill="none" stroke="#FF0000" stroke-width="1.25"/>
<rect x="536.50" y="136.40" width="4.60" height="4.60" fill="none" stroke="#FF0000" stroke-width="1.25"/>
<rect x="541.60" y="130.50" width="4.60" height="4.60" fill="none" stroke="#FF0000" stroke-width="1.25"/>
<rect x="548.90" y="125.40" width="4.60" height="4.60" fill="none" stroke="#FF0000" stroke-width="1.25"/>
<rect x="555.50" y="118.90" width="4.60" height="4.60" fill="none" stroke="#1F6FC4" stroke-width="1.25"/>
<rect x="565.60" y="111.10" width="4.60" height="4.60" fill="none" stroke="#1F6FC4" stroke-width="1.25"/>
<rect x="572.40" y="105.20" width="4.60" height="4.60" fill="none" stroke="#1F6FC4" stroke-width="1.25"/>
<rect x="584.20" y="95.40" width="4.60" height="4.60" fill="none" stroke="#1F6FC4" stroke-width="1.25"/>
<rect x="591.60" y="87.50" width="4.60" height="4.60" fill="none" stroke="#1F6FC4" stroke-width="1.25"/>
<rect x="596.27" y="83.37" width="5.06" height="5.06" fill="none" stroke="#00B050" stroke-width="1.25"/>
<rect x="597.27" y="87.27" width="5.06" height="5.06" fill="none" stroke="#00B050" stroke-width="1.25"/>
<rect x="597.27" y="92.17" width="5.06" height="5.06" fill="none" stroke="#00B050" stroke-width="1.25"/>
<rect x="597.77" y="95.67" width="5.06" height="5.06" fill="none" stroke="#00B050" stroke-width="1.25"/>
<rect x="598.77" y="100.57" width="5.06" height="5.06" fill="none" stroke="#00B050" stroke-width="1.25"/>
<rect x="599.27" y="110.87" width="5.06" height="5.06" fill="none" stroke="#00B050" stroke-width="1.25"/>
<rect x="599.27" y="117.77" width="5.06" height="5.06" fill="none" stroke="#00B050" stroke-width="1.25"/>
<rect x="599.27" y="126.67" width="5.06" height="5.06" fill="none" stroke="#00B050" stroke-width="1.25"/>
<rect x="599.27" y="132.57" width="5.06" height="5.06" fill="none" stroke="#00B050" stroke-width="1.25"/>
<rect x="599.27" y="142.37" width="5.06" height="5.06" fill="none" stroke="#00B050" stroke-width="1.25"/>
<path d="M418.00 187.80 L423.00 187.77 L428.00 187.68 L433.00 187.52 L438.00 187.30 L443.00 187.02 L448.00 186.68 L453.00 186.27 L458.00 185.80 L465.00 184.00 L473.00 181.00 L481.00 176.80 L491.40 169.80" fill="none" stroke="#000000" stroke-width="1.15" stroke-linejoin="round" stroke-linecap="round"/>
<path d="M491.40 169.80 L502.30 162.00 L509.60 157.70 L519.10 148.20 L526.40 141.60 L534.50 133.90" fill="none" stroke="#FF0000" stroke-width="1.15" stroke-linejoin="round" stroke-linecap="round"/>
<path d="M534.50 133.90 L540.30 127.70 L546.90 121.90 L553.40 114.60 L559.60 107.70 L564.90 105.60 L573.80 97.70 L577.70 101.60" fill="none" stroke="#1F6FC4" stroke-width="1.15" stroke-linejoin="round" stroke-linecap="round"/>
<path d="M577.70 101.60 L579.70 106.50 L579.20 111.50 L580.20 119.30 L580.60 124.20 L580.60 131.10 L581.10 135.10" fill="none" stroke="#00B050" stroke-width="1.15" stroke-linejoin="round" stroke-linecap="round"/>
<path d="M418.00 185.30L420.80 190.30L415.20 190.30Z" fill="none" stroke="#000000" stroke-width="1.25" stroke-linejoin="miter"/>
<path d="M423.00 185.27L425.80 190.27L420.20 190.27Z" fill="none" stroke="#000000" stroke-width="1.25" stroke-linejoin="miter"/>
<path d="M428.00 185.18L430.80 190.18L425.20 190.18Z" fill="none" stroke="#000000" stroke-width="1.25" stroke-linejoin="miter"/>
<path d="M433.00 185.02L435.80 190.02L430.20 190.02Z" fill="none" stroke="#000000" stroke-width="1.25" stroke-linejoin="miter"/>
<path d="M438.00 184.80L440.80 189.80L435.20 189.80Z" fill="none" stroke="#000000" stroke-width="1.25" stroke-linejoin="miter"/>
<path d="M443.00 184.52L445.80 189.52L440.20 189.52Z" fill="none" stroke="#000000" stroke-width="1.25" stroke-linejoin="miter"/>
<path d="M448.00 184.18L450.80 189.18L445.20 189.18Z" fill="none" stroke="#000000" stroke-width="1.25" stroke-linejoin="miter"/>
<path d="M453.00 183.77L455.80 188.77L450.20 188.77Z" fill="none" stroke="#000000" stroke-width="1.25" stroke-linejoin="miter"/>
<path d="M458.00 183.30L460.80 188.30L455.20 188.30Z" fill="none" stroke="#000000" stroke-width="1.25" stroke-linejoin="miter"/>
<path d="M465.00 181.50L467.80 186.50L462.20 186.50Z" fill="none" stroke="#000000" stroke-width="1.25" stroke-linejoin="miter"/>
<path d="M473.00 178.50L475.80 183.50L470.20 183.50Z" fill="none" stroke="#000000" stroke-width="1.25" stroke-linejoin="miter"/>
<path d="M481.00 174.30L483.80 179.30L478.20 179.30Z" fill="none" stroke="#000000" stroke-width="1.25" stroke-linejoin="miter"/>
<path d="M491.40 167.30L494.20 172.30L488.60 172.30Z" fill="none" stroke="#FF0000" stroke-width="1.25" stroke-linejoin="miter"/>
<path d="M502.30 159.50L505.10 164.50L499.50 164.50Z" fill="none" stroke="#FF0000" stroke-width="1.25" stroke-linejoin="miter"/>
<path d="M509.60 155.20L512.40 160.20L506.80 160.20Z" fill="none" stroke="#FF0000" stroke-width="1.25" stroke-linejoin="miter"/>
<path d="M519.10 145.70L521.90 150.70L516.30 150.70Z" fill="none" stroke="#FF0000" stroke-width="1.25" stroke-linejoin="miter"/>
<path d="M526.40 139.10L529.20 144.10L523.60 144.10Z" fill="none" stroke="#FF0000" stroke-width="1.25" stroke-linejoin="miter"/>
<path d="M534.50 131.40L537.30 136.40L531.70 136.40Z" fill="none" stroke="#1F6FC4" stroke-width="1.25" stroke-linejoin="miter"/>
<path d="M540.30 125.20L543.10 130.20L537.50 130.20Z" fill="none" stroke="#1F6FC4" stroke-width="1.25" stroke-linejoin="miter"/>
<path d="M546.90 119.40L549.70 124.40L544.10 124.40Z" fill="none" stroke="#1F6FC4" stroke-width="1.25" stroke-linejoin="miter"/>
<path d="M553.40 112.10L556.20 117.10L550.60 117.10Z" fill="none" stroke="#1F6FC4" stroke-width="1.25" stroke-linejoin="miter"/>
<path d="M559.60 105.20L562.40 110.20L556.80 110.20Z" fill="none" stroke="#1F6FC4" stroke-width="1.25" stroke-linejoin="miter"/>
<path d="M564.90 103.10L567.70 108.10L562.10 108.10Z" fill="none" stroke="#1F6FC4" stroke-width="1.25" stroke-linejoin="miter"/>
<path d="M573.80 95.20L576.60 100.20L571.00 100.20Z" fill="none" stroke="#1F6FC4" stroke-width="1.25" stroke-linejoin="miter"/>
<path d="M577.70 98.85L580.78 104.35L574.62 104.35Z" fill="none" stroke="#00B050" stroke-width="1.25" stroke-linejoin="miter"/>
<path d="M579.70 103.75L582.78 109.25L576.62 109.25Z" fill="none" stroke="#00B050" stroke-width="1.25" stroke-linejoin="miter"/>
<path d="M579.20 108.75L582.28 114.25L576.12 114.25Z" fill="none" stroke="#00B050" stroke-width="1.25" stroke-linejoin="miter"/>
<path d="M580.20 116.55L583.28 122.05L577.12 122.05Z" fill="none" stroke="#00B050" stroke-width="1.25" stroke-linejoin="miter"/>
<path d="M580.60 121.45L583.68 126.95L577.52 126.95Z" fill="none" stroke="#00B050" stroke-width="1.25" stroke-linejoin="miter"/>
<path d="M580.60 128.35L583.68 133.85L577.52 133.85Z" fill="none" stroke="#00B050" stroke-width="1.25" stroke-linejoin="miter"/>
<path d="M581.10 132.35L584.18 137.85L578.02 137.85Z" fill="none" stroke="#00B050" stroke-width="1.25" stroke-linejoin="miter"/>
<path d="M56.00 429.60 L60.60 429.56 L65.20 429.43 L69.80 429.23 L74.40 428.93 L79.00 428.56 L83.60 428.10 L86.80 427.10 L93.50 425.30 L100.50 422.40 L110.40 418.30 L124.50 413.00" fill="none" stroke="#000000" stroke-width="1.15" stroke-linejoin="round" stroke-linecap="round"/>
<path d="M124.50 413.00 L132.00 409.60 L140.20 403.90 L147.90 400.40 L158.60 390.70 L166.80 386.10 L177.00 377.40 L185.70 371.20 L194.40 364.10 L204.50 355.00 L212.80 346.70 L219.60 341.20 L225.80 334.20" fill="none" stroke="#FF0000" stroke-width="1.15" stroke-linejoin="round" stroke-linecap="round"/>
<path d="M225.80 334.20 L229.30 330.70 L233.40 327.20 L236.90 323.70 L242.80 317.30 L247.40 312.60 L251.80 308.00 L259.10 301.00 L262.60 297.40 L266.70 292.80 L269.10 290.40 L271.40 287.50 L274.30 285.20" fill="none" stroke="#1F6FC4" stroke-width="1.15" stroke-linejoin="round" stroke-linecap="round"/>
<path d="M274.30 285.20 L275.50 288.70 L276.10 292.20 L277.20 295.10 L280.10 298.60 L280.70 303.90 L280.70 308.00 L280.70 312.00 L280.10 320.20 L280.10 324.90 L280.10 329.60 L286.00 327.80 L289.80 328.40" fill="none" stroke="#00B050" stroke-width="1.15" stroke-linejoin="round" stroke-linecap="round"/>
<circle cx="56.00" cy="429.60" r="2.35" fill="none" stroke="#000000" stroke-width="1.25"/>
<circle cx="60.60" cy="429.56" r="2.35" fill="none" stroke="#000000" stroke-width="1.25"/>
<circle cx="65.20" cy="429.43" r="2.35" fill="none" stroke="#000000" stroke-width="1.25"/>
<circle cx="69.80" cy="429.23" r="2.35" fill="none" stroke="#000000" stroke-width="1.25"/>
<circle cx="74.40" cy="428.93" r="2.35" fill="none" stroke="#000000" stroke-width="1.25"/>
<circle cx="79.00" cy="428.56" r="2.35" fill="none" stroke="#000000" stroke-width="1.25"/>
<circle cx="83.60" cy="428.10" r="2.35" fill="none" stroke="#000000" stroke-width="1.25"/>
<circle cx="86.80" cy="427.10" r="2.35" fill="none" stroke="#000000" stroke-width="1.25"/>
<circle cx="93.50" cy="425.30" r="2.35" fill="none" stroke="#000000" stroke-width="1.25"/>
<circle cx="100.50" cy="422.40" r="2.35" fill="none" stroke="#000000" stroke-width="1.25"/>
<circle cx="110.40" cy="418.30" r="2.35" fill="none" stroke="#000000" stroke-width="1.25"/>
<circle cx="124.50" cy="413.00" r="2.35" fill="none" stroke="#FF0000" stroke-width="1.25"/>
<circle cx="132.00" cy="409.60" r="2.35" fill="none" stroke="#FF0000" stroke-width="1.25"/>
<circle cx="140.20" cy="403.90" r="2.35" fill="none" stroke="#FF0000" stroke-width="1.25"/>
<circle cx="147.90" cy="400.40" r="2.35" fill="none" stroke="#FF0000" stroke-width="1.25"/>
<circle cx="158.60" cy="390.70" r="2.35" fill="none" stroke="#FF0000" stroke-width="1.25"/>
<circle cx="166.80" cy="386.10" r="2.35" fill="none" stroke="#FF0000" stroke-width="1.25"/>
<circle cx="177.00" cy="377.40" r="2.35" fill="none" stroke="#FF0000" stroke-width="1.25"/>
<circle cx="185.70" cy="371.20" r="2.35" fill="none" stroke="#FF0000" stroke-width="1.25"/>
<circle cx="194.40" cy="364.10" r="2.35" fill="none" stroke="#FF0000" stroke-width="1.25"/>
<circle cx="204.50" cy="355.00" r="2.35" fill="none" stroke="#FF0000" stroke-width="1.25"/>
<circle cx="212.80" cy="346.70" r="2.35" fill="none" stroke="#FF0000" stroke-width="1.25"/>
<circle cx="219.60" cy="341.20" r="2.35" fill="none" stroke="#FF0000" stroke-width="1.25"/>
<circle cx="225.80" cy="334.20" r="2.35" fill="none" stroke="#1F6FC4" stroke-width="1.25"/>
<circle cx="229.30" cy="330.70" r="2.35" fill="none" stroke="#1F6FC4" stroke-width="1.25"/>
<circle cx="233.40" cy="327.20" r="2.35" fill="none" stroke="#1F6FC4" stroke-width="1.25"/>
<circle cx="236.90" cy="323.70" r="2.35" fill="none" stroke="#1F6FC4" stroke-width="1.25"/>
<circle cx="242.80" cy="317.30" r="2.35" fill="none" stroke="#1F6FC4" stroke-width="1.25"/>
<circle cx="247.40" cy="312.60" r="2.35" fill="none" stroke="#1F6FC4" stroke-width="1.25"/>
<circle cx="251.80" cy="308.00" r="2.35" fill="none" stroke="#1F6FC4" stroke-width="1.25"/>
<circle cx="259.10" cy="301.00" r="2.35" fill="none" stroke="#1F6FC4" stroke-width="1.25"/>
<circle cx="262.60" cy="297.40" r="2.35" fill="none" stroke="#1F6FC4" stroke-width="1.25"/>
<circle cx="266.70" cy="292.80" r="2.35" fill="none" stroke="#1F6FC4" stroke-width="1.25"/>
<circle cx="269.10" cy="290.40" r="2.35" fill="none" stroke="#1F6FC4" stroke-width="1.25"/>
<circle cx="271.40" cy="287.50" r="2.35" fill="none" stroke="#1F6FC4" stroke-width="1.25"/>
<circle cx="274.30" cy="285.20" r="2.59" fill="none" stroke="#00B050" stroke-width="1.25"/>
<circle cx="275.50" cy="288.70" r="2.59" fill="none" stroke="#00B050" stroke-width="1.25"/>
<circle cx="276.10" cy="292.20" r="2.59" fill="none" stroke="#00B050" stroke-width="1.25"/>
<circle cx="277.20" cy="295.10" r="2.59" fill="none" stroke="#00B050" stroke-width="1.25"/>
<circle cx="280.10" cy="298.60" r="2.59" fill="none" stroke="#00B050" stroke-width="1.25"/>
<circle cx="280.70" cy="303.90" r="2.59" fill="none" stroke="#00B050" stroke-width="1.25"/>
<circle cx="280.70" cy="308.00" r="2.59" fill="none" stroke="#00B050" stroke-width="1.25"/>
<circle cx="280.70" cy="312.00" r="2.59" fill="none" stroke="#00B050" stroke-width="1.25"/>
<circle cx="280.10" cy="320.20" r="2.59" fill="none" stroke="#00B050" stroke-width="1.25"/>
<circle cx="280.10" cy="324.90" r="2.59" fill="none" stroke="#00B050" stroke-width="1.25"/>
<circle cx="280.10" cy="329.60" r="2.59" fill="none" stroke="#00B050" stroke-width="1.25"/>
<circle cx="286.00" cy="327.80" r="2.59" fill="none" stroke="#00B050" stroke-width="1.25"/>
<circle cx="289.80" cy="328.40" r="2.59" fill="none" stroke="#00B050" stroke-width="1.25"/>
<path d="M58.00 430.00 L63.00 429.98 L68.00 429.94 L73.00 429.86 L78.00 429.75 L83.00 429.61 L88.00 429.44 L93.00 429.23 L98.00 429.00 L108.00 426.50 L118.00 423.50" fill="none" stroke="#000000" stroke-width="1.15" stroke-linejoin="round" stroke-linecap="round"/>
<path d="M118.00 423.50 L128.00 418.50 L139.00 413.50 L151.00 406.00 L163.70 396.50 L172.00 391.00 L178.00 386.80 L183.00 381.90 L188.00 378.50 L194.50 373.10 L199.70 369.10 L205.30 364.30 L209.80 361.50 L215.50 355.00" fill="none" stroke="#FF0000" stroke-width="1.15" stroke-linejoin="round" stroke-linecap="round"/>
<path d="M215.50 355.00 L221.30 351.40 L227.60 346.30 L232.90 343.20 L238.10 340.60 L241.60 338.40 L245.60 335.80 L250.80 333.10" fill="none" stroke="#1F6FC4" stroke-width="1.15" stroke-linejoin="round" stroke-linecap="round"/>
<path d="M250.80 333.10 L250.40 337.50 L250.00 341.90 L250.00 346.70 L252.10 349.80 L254.30 352.40" fill="none" stroke="#00B050" stroke-width="1.15" stroke-linejoin="round" stroke-linecap="round"/>
<path d="M58.00 427.10L60.80 430.00L58.00 432.90L55.20 430.00Z" fill="none" stroke="#000000" stroke-width="1.25"/>
<path d="M63.00 427.08L65.80 429.98L63.00 432.88L60.20 429.98Z" fill="none" stroke="#000000" stroke-width="1.25"/>
<path d="M68.00 427.04L70.80 429.94L68.00 432.84L65.20 429.94Z" fill="none" stroke="#000000" stroke-width="1.25"/>
<path d="M73.00 426.96L75.80 429.86L73.00 432.76L70.20 429.86Z" fill="none" stroke="#000000" stroke-width="1.25"/>
<path d="M78.00 426.85L80.80 429.75L78.00 432.65L75.20 429.75Z" fill="none" stroke="#000000" stroke-width="1.25"/>
<path d="M83.00 426.71L85.80 429.61L83.00 432.51L80.20 429.61Z" fill="none" stroke="#000000" stroke-width="1.25"/>
<path d="M88.00 426.54L90.80 429.44L88.00 432.34L85.20 429.44Z" fill="none" stroke="#000000" stroke-width="1.25"/>
<path d="M93.00 426.33L95.80 429.23L93.00 432.13L90.20 429.23Z" fill="none" stroke="#000000" stroke-width="1.25"/>
<path d="M98.00 426.10L100.80 429.00L98.00 431.90L95.20 429.00Z" fill="none" stroke="#000000" stroke-width="1.25"/>
<path d="M108.00 423.60L110.80 426.50L108.00 429.40L105.20 426.50Z" fill="none" stroke="#000000" stroke-width="1.25"/>
<path d="M118.00 420.60L120.80 423.50L118.00 426.40L115.20 423.50Z" fill="none" stroke="#FF0000" stroke-width="1.25"/>
<path d="M128.00 415.60L130.80 418.50L128.00 421.40L125.20 418.50Z" fill="none" stroke="#FF0000" stroke-width="1.25"/>
<path d="M139.00 410.60L141.80 413.50L139.00 416.40L136.20 413.50Z" fill="none" stroke="#FF0000" stroke-width="1.25"/>
<path d="M151.00 403.10L153.80 406.00L151.00 408.90L148.20 406.00Z" fill="none" stroke="#FF0000" stroke-width="1.25"/>
<path d="M163.70 393.60L166.50 396.50L163.70 399.40L160.90 396.50Z" fill="none" stroke="#FF0000" stroke-width="1.25"/>
<path d="M172.00 388.10L174.80 391.00L172.00 393.90L169.20 391.00Z" fill="none" stroke="#FF0000" stroke-width="1.25"/>
<path d="M178.00 383.90L180.80 386.80L178.00 389.70L175.20 386.80Z" fill="none" stroke="#FF0000" stroke-width="1.25"/>
<path d="M183.00 379.00L185.80 381.90L183.00 384.80L180.20 381.90Z" fill="none" stroke="#FF0000" stroke-width="1.25"/>
<path d="M188.00 375.60L190.80 378.50L188.00 381.40L185.20 378.50Z" fill="none" stroke="#FF0000" stroke-width="1.25"/>
<path d="M194.50 370.20L197.30 373.10L194.50 376.00L191.70 373.10Z" fill="none" stroke="#FF0000" stroke-width="1.25"/>
<path d="M199.70 366.20L202.50 369.10L199.70 372.00L196.90 369.10Z" fill="none" stroke="#FF0000" stroke-width="1.25"/>
<path d="M205.30 361.40L208.10 364.30L205.30 367.20L202.50 364.30Z" fill="none" stroke="#FF0000" stroke-width="1.25"/>
<path d="M209.80 358.60L212.60 361.50L209.80 364.40L207.00 361.50Z" fill="none" stroke="#FF0000" stroke-width="1.25"/>
<path d="M215.50 352.10L218.30 355.00L215.50 357.90L212.70 355.00Z" fill="none" stroke="#1F6FC4" stroke-width="1.25"/>
<path d="M221.30 348.50L224.10 351.40L221.30 354.30L218.50 351.40Z" fill="none" stroke="#1F6FC4" stroke-width="1.25"/>
<path d="M227.60 343.40L230.40 346.30L227.60 349.20L224.80 346.30Z" fill="none" stroke="#1F6FC4" stroke-width="1.25"/>
<path d="M232.90 340.30L235.70 343.20L232.90 346.10L230.10 343.20Z" fill="none" stroke="#1F6FC4" stroke-width="1.25"/>
<path d="M238.10 337.70L240.90 340.60L238.10 343.50L235.30 340.60Z" fill="none" stroke="#1F6FC4" stroke-width="1.25"/>
<path d="M241.60 335.50L244.40 338.40L241.60 341.30L238.80 338.40Z" fill="none" stroke="#1F6FC4" stroke-width="1.25"/>
<path d="M245.60 332.90L248.40 335.80L245.60 338.70L242.80 335.80Z" fill="none" stroke="#1F6FC4" stroke-width="1.25"/>
<path d="M250.80 329.91L253.88 333.10L250.80 336.29L247.72 333.10Z" fill="none" stroke="#00B050" stroke-width="1.25"/>
<path d="M250.40 334.31L253.48 337.50L250.40 340.69L247.32 337.50Z" fill="none" stroke="#00B050" stroke-width="1.25"/>
<path d="M250.00 338.71L253.08 341.90L250.00 345.09L246.92 341.90Z" fill="none" stroke="#00B050" stroke-width="1.25"/>
<path d="M250.00 343.51L253.08 346.70L250.00 349.89L246.92 346.70Z" fill="none" stroke="#00B050" stroke-width="1.25"/>
<path d="M252.10 346.61L255.18 349.80L252.10 352.99L249.02 349.80Z" fill="none" stroke="#00B050" stroke-width="1.25"/>
<path d="M254.30 349.21L257.38 352.40L254.30 355.59L251.22 352.40Z" fill="none" stroke="#00B050" stroke-width="1.25"/>
<path d="M57.00 429.80 L61.40 429.79 L65.80 429.75 L70.20 429.69 L74.60 429.60 L79.00 429.49 L83.40 429.36 L87.80 429.20 L92.20 429.01 L96.60 428.80 L104.00 427.50 L112.20 427.00" fill="none" stroke="#000000" stroke-width="1.15" stroke-linejoin="round" stroke-linecap="round"/>
<path d="M112.20 427.00 L123.90 422.40 L130.30 418.90 L137.90 414.20 L148.40 407.20 L160.70 399.90 L169.90 393.20 L178.00 387.10" fill="none" stroke="#FF0000" stroke-width="1.15" stroke-linejoin="round" stroke-linecap="round"/>
<path d="M178.00 387.10 L187.20 379.90 L195.40 372.80 L199.40 368.90 L205.30 363.80 L209.60 361.60 L214.00 357.20 L217.70 356.00" fill="none" stroke="#1F6FC4" stroke-width="1.15" stroke-linejoin="round" stroke-linecap="round"/>
<path d="M217.70 356.00 L218.40 362.30 L218.40 366.70 L218.40 371.10 L219.90 379.90 L219.90 384.20" fill="none" stroke="#00B050" stroke-width="1.15" stroke-linejoin="round" stroke-linecap="round"/>
<rect x="54.70" y="427.50" width="4.60" height="4.60" fill="none" stroke="#000000" stroke-width="1.25"/>
<rect x="59.10" y="427.49" width="4.60" height="4.60" fill="none" stroke="#000000" stroke-width="1.25"/>
<rect x="63.50" y="427.45" width="4.60" height="4.60" fill="none" stroke="#000000" stroke-width="1.25"/>
<rect x="67.90" y="427.39" width="4.60" height="4.60" fill="none" stroke="#000000" stroke-width="1.25"/>
<rect x="72.30" y="427.30" width="4.60" height="4.60" fill="none" stroke="#000000" stroke-width="1.25"/>
<rect x="76.70" y="427.19" width="4.60" height="4.60" fill="none" stroke="#000000" stroke-width="1.25"/>
<rect x="81.10" y="427.06" width="4.60" height="4.60" fill="none" stroke="#000000" stroke-width="1.25"/>
<rect x="85.50" y="426.90" width="4.60" height="4.60" fill="none" stroke="#000000" stroke-width="1.25"/>
<rect x="89.90" y="426.71" width="4.60" height="4.60" fill="none" stroke="#000000" stroke-width="1.25"/>
<rect x="94.30" y="426.50" width="4.60" height="4.60" fill="none" stroke="#000000" stroke-width="1.25"/>
<rect x="101.70" y="425.20" width="4.60" height="4.60" fill="none" stroke="#000000" stroke-width="1.25"/>
<rect x="109.90" y="424.70" width="4.60" height="4.60" fill="none" stroke="#FF0000" stroke-width="1.25"/>
<rect x="121.60" y="420.10" width="4.60" height="4.60" fill="none" stroke="#FF0000" stroke-width="1.25"/>
<rect x="128.00" y="416.60" width="4.60" height="4.60" fill="none" stroke="#FF0000" stroke-width="1.25"/>
<rect x="135.60" y="411.90" width="4.60" height="4.60" fill="none" stroke="#FF0000" stroke-width="1.25"/>
<rect x="146.10" y="404.90" width="4.60" height="4.60" fill="none" stroke="#FF0000" stroke-width="1.25"/>
<rect x="158.40" y="397.60" width="4.60" height="4.60" fill="none" stroke="#FF0000" stroke-width="1.25"/>
<rect x="167.60" y="390.90" width="4.60" height="4.60" fill="none" stroke="#FF0000" stroke-width="1.25"/>
<rect x="175.70" y="384.80" width="4.60" height="4.60" fill="none" stroke="#1F6FC4" stroke-width="1.25"/>
<rect x="184.90" y="377.60" width="4.60" height="4.60" fill="none" stroke="#1F6FC4" stroke-width="1.25"/>
<rect x="193.10" y="370.50" width="4.60" height="4.60" fill="none" stroke="#1F6FC4" stroke-width="1.25"/>
<rect x="197.10" y="366.60" width="4.60" height="4.60" fill="none" stroke="#1F6FC4" stroke-width="1.25"/>
<rect x="203.00" y="361.50" width="4.60" height="4.60" fill="none" stroke="#1F6FC4" stroke-width="1.25"/>
<rect x="207.30" y="359.30" width="4.60" height="4.60" fill="none" stroke="#1F6FC4" stroke-width="1.25"/>
<rect x="211.70" y="354.90" width="4.60" height="4.60" fill="none" stroke="#1F6FC4" stroke-width="1.25"/>
<rect x="215.17" y="353.47" width="5.06" height="5.06" fill="none" stroke="#00B050" stroke-width="1.25"/>
<rect x="215.87" y="359.77" width="5.06" height="5.06" fill="none" stroke="#00B050" stroke-width="1.25"/>
<rect x="215.87" y="364.17" width="5.06" height="5.06" fill="none" stroke="#00B050" stroke-width="1.25"/>
<rect x="215.87" y="368.57" width="5.06" height="5.06" fill="none" stroke="#00B050" stroke-width="1.25"/>
<rect x="217.37" y="377.37" width="5.06" height="5.06" fill="none" stroke="#00B050" stroke-width="1.25"/>
<rect x="217.37" y="381.67" width="5.06" height="5.06" fill="none" stroke="#00B050" stroke-width="1.25"/>
<path d="M59.00 429.80 L64.20 429.78 L69.40 429.72 L74.60 429.62 L79.80 429.47 L85.00 429.29 L90.20 429.07 L95.40 428.80 L106.00 424.00 L114.50 419.50 L124.00 413.50" fill="none" stroke="#000000" stroke-width="1.15" stroke-linejoin="round" stroke-linecap="round"/>
<path d="M124.00 413.50 L129.70 410.60" fill="none" stroke="#FF0000" stroke-width="1.15" stroke-linejoin="round" stroke-linecap="round"/>
<path d="M129.70 410.60 L132.60 409.20 L135.50 408.90 L141.40 406.60 L148.40 403.70 L154.50 400.90" fill="none" stroke="#1F6FC4" stroke-width="1.15" stroke-linejoin="round" stroke-linecap="round"/>
<path d="M154.50 400.90 L155.40 406.00 L156.00 409.50 L156.00 413.00 L156.00 416.50 L156.60 419.50 L156.60 422.40" fill="none" stroke="#00B050" stroke-width="1.15" stroke-linejoin="round" stroke-linecap="round"/>
<path d="M59.00 427.30L61.80 432.30L56.20 432.30Z" fill="none" stroke="#000000" stroke-width="1.25" stroke-linejoin="miter"/>
<path d="M64.20 427.28L67.00 432.28L61.40 432.28Z" fill="none" stroke="#000000" stroke-width="1.25" stroke-linejoin="miter"/>
<path d="M69.40 427.22L72.20 432.22L66.60 432.22Z" fill="none" stroke="#000000" stroke-width="1.25" stroke-linejoin="miter"/>
<path d="M74.60 427.12L77.40 432.12L71.80 432.12Z" fill="none" stroke="#000000" stroke-width="1.25" stroke-linejoin="miter"/>
<path d="M79.80 426.97L82.60 431.97L77.00 431.97Z" fill="none" stroke="#000000" stroke-width="1.25" stroke-linejoin="miter"/>
<path d="M85.00 426.79L87.80 431.79L82.20 431.79Z" fill="none" stroke="#000000" stroke-width="1.25" stroke-linejoin="miter"/>
<path d="M90.20 426.57L93.00 431.57L87.40 431.57Z" fill="none" stroke="#000000" stroke-width="1.25" stroke-linejoin="miter"/>
<path d="M95.40 426.30L98.20 431.30L92.60 431.30Z" fill="none" stroke="#000000" stroke-width="1.25" stroke-linejoin="miter"/>
<path d="M106.00 421.50L108.80 426.50L103.20 426.50Z" fill="none" stroke="#000000" stroke-width="1.25" stroke-linejoin="miter"/>
<path d="M114.50 417.00L117.30 422.00L111.70 422.00Z" fill="none" stroke="#000000" stroke-width="1.25" stroke-linejoin="miter"/>
<path d="M124.00 411.00L126.80 416.00L121.20 416.00Z" fill="none" stroke="#FF0000" stroke-width="1.25" stroke-linejoin="miter"/>
<path d="M129.70 408.73L131.80 412.48L127.60 412.48Z" fill="none" stroke="#1F6FC4" stroke-width="1.25" stroke-linejoin="miter"/>
<path d="M132.60 407.32L134.70 411.07L130.50 411.07Z" fill="none" stroke="#1F6FC4" stroke-width="1.25" stroke-linejoin="miter"/>
<path d="M135.50 407.02L137.60 410.77L133.40 410.77Z" fill="none" stroke="#1F6FC4" stroke-width="1.25" stroke-linejoin="miter"/>
<path d="M141.40 404.73L143.50 408.48L139.30 408.48Z" fill="none" stroke="#1F6FC4" stroke-width="1.25" stroke-linejoin="miter"/>
<path d="M148.40 401.82L150.50 405.57L146.30 405.57Z" fill="none" stroke="#1F6FC4" stroke-width="1.25" stroke-linejoin="miter"/>
<path d="M154.50 398.52L157.16 403.27L151.84 403.27Z" fill="none" stroke="#00B050" stroke-width="1.25" stroke-linejoin="miter"/>
<path d="M155.40 403.62L158.06 408.38L152.74 408.38Z" fill="none" stroke="#00B050" stroke-width="1.25" stroke-linejoin="miter"/>
<path d="M156.00 407.12L158.66 411.88L153.34 411.88Z" fill="none" stroke="#00B050" stroke-width="1.25" stroke-linejoin="miter"/>
<path d="M156.00 410.62L158.66 415.38L153.34 415.38Z" fill="none" stroke="#00B050" stroke-width="1.25" stroke-linejoin="miter"/>
<path d="M156.00 414.12L158.66 418.88L153.34 418.88Z" fill="none" stroke="#00B050" stroke-width="1.25" stroke-linejoin="miter"/>
<path d="M156.60 417.12L159.26 421.88L153.94 421.88Z" fill="none" stroke="#00B050" stroke-width="1.25" stroke-linejoin="miter"/>
<path d="M156.60 420.02L159.26 424.77L153.94 424.77Z" fill="none" stroke="#00B050" stroke-width="1.25" stroke-linejoin="miter"/>
<path d="M406.00 433.80 L410.40 433.74 L414.80 433.56 L419.20 433.26 L423.60 432.84 L428.00 432.30 L431.50 429.80 L438.50 428.00 L445.50 426.60 L451.40 424.50 L457.20 421.60 L463.60 418.70" fill="none" stroke="#000000" stroke-width="1.15" stroke-linejoin="round" stroke-linecap="round"/>
<path d="M463.60 418.70 L469.90 414.80 L476.40 411.30 L481.60 407.80 L488.00 403.70 L495.00 399.00 L502.60 393.20 L508.30 389.20 L517.50 381.30 L526.00 374.30 L533.90 368.20 L540.60 362.00 L546.70 356.80 L554.70 350.70 L558.10 346.70" fill="none" stroke="#FF0000" stroke-width="1.15" stroke-linejoin="round" stroke-linecap="round"/>
<path d="M558.10 346.70 L563.50 342.60 L569.30 336.80 L574.60 331.60 L580.70 326.00 L588.40 318.30 L594.00 311.20 L600.10 304.50 L603.20 301.50" fill="none" stroke="#1F6FC4" stroke-width="1.15" stroke-linejoin="round" stroke-linecap="round"/>
<path d="M603.20 301.50 L604.70 305.50 L605.30 309.60 L605.80 314.70 L608.30 312.70 L609.30 310.70 L612.90 306.10 L615.50 302.00 L618.00 299.90 L618.50 304.00 L618.00 310.70 L619.00 316.80 L620.10 322.90 L619.00 330.10 L618.50 336.20 L619.00 341.30 L620.10 347.40 L619.40 352.50 L619.40 357.50 L619.40 362.50 L619.40 367.90" fill="none" stroke="#00B050" stroke-width="1.15" stroke-linejoin="round" stroke-linecap="round"/>
<circle cx="406.00" cy="433.80" r="2.35" fill="none" stroke="#000000" stroke-width="1.25"/>
<circle cx="410.40" cy="433.74" r="2.35" fill="none" stroke="#000000" stroke-width="1.25"/>
<circle cx="414.80" cy="433.56" r="2.35" fill="none" stroke="#000000" stroke-width="1.25"/>
<circle cx="419.20" cy="433.26" r="2.35" fill="none" stroke="#000000" stroke-width="1.25"/>
<circle cx="423.60" cy="432.84" r="2.35" fill="none" stroke="#000000" stroke-width="1.25"/>
<circle cx="428.00" cy="432.30" r="2.35" fill="none" stroke="#000000" stroke-width="1.25"/>
<circle cx="431.50" cy="429.80" r="2.35" fill="none" stroke="#000000" stroke-width="1.25"/>
<circle cx="438.50" cy="428.00" r="2.35" fill="none" stroke="#000000" stroke-width="1.25"/>
<circle cx="445.50" cy="426.60" r="2.35" fill="none" stroke="#000000" stroke-width="1.25"/>
<circle cx="451.40" cy="424.50" r="2.35" fill="none" stroke="#000000" stroke-width="1.25"/>
<circle cx="457.20" cy="421.60" r="2.35" fill="none" stroke="#000000" stroke-width="1.25"/>
<circle cx="463.60" cy="418.70" r="2.35" fill="none" stroke="#FF0000" stroke-width="1.25"/>
<circle cx="469.90" cy="414.80" r="2.35" fill="none" stroke="#FF0000" stroke-width="1.25"/>
<circle cx="476.40" cy="411.30" r="2.35" fill="none" stroke="#FF0000" stroke-width="1.25"/>
<circle cx="481.60" cy="407.80" r="2.35" fill="none" stroke="#FF0000" stroke-width="1.25"/>
<circle cx="488.00" cy="403.70" r="2.35" fill="none" stroke="#FF0000" stroke-width="1.25"/>
<circle cx="495.00" cy="399.00" r="2.35" fill="none" stroke="#FF0000" stroke-width="1.25"/>
<circle cx="502.60" cy="393.20" r="2.35" fill="none" stroke="#FF0000" stroke-width="1.25"/>
<circle cx="508.30" cy="389.20" r="2.35" fill="none" stroke="#FF0000" stroke-width="1.25"/>
<circle cx="517.50" cy="381.30" r="2.35" fill="none" stroke="#FF0000" stroke-width="1.25"/>
<circle cx="526.00" cy="374.30" r="2.35" fill="none" stroke="#FF0000" stroke-width="1.25"/>
<circle cx="533.90" cy="368.20" r="2.35" fill="none" stroke="#FF0000" stroke-width="1.25"/>
<circle cx="540.60" cy="362.00" r="2.35" fill="none" stroke="#FF0000" stroke-width="1.25"/>
<circle cx="546.70" cy="356.80" r="2.35" fill="none" stroke="#FF0000" stroke-width="1.25"/>
<circle cx="554.70" cy="350.70" r="2.35" fill="none" stroke="#FF0000" stroke-width="1.25"/>
<circle cx="558.10" cy="346.70" r="2.35" fill="none" stroke="#1F6FC4" stroke-width="1.25"/>
<circle cx="563.50" cy="342.60" r="2.35" fill="none" stroke="#1F6FC4" stroke-width="1.25"/>
<circle cx="569.30" cy="336.80" r="2.35" fill="none" stroke="#1F6FC4" stroke-width="1.25"/>
<circle cx="574.60" cy="331.60" r="2.35" fill="none" stroke="#1F6FC4" stroke-width="1.25"/>
<circle cx="580.70" cy="326.00" r="2.35" fill="none" stroke="#1F6FC4" stroke-width="1.25"/>
<circle cx="588.40" cy="318.30" r="2.35" fill="none" stroke="#1F6FC4" stroke-width="1.25"/>
<circle cx="594.00" cy="311.20" r="2.35" fill="none" stroke="#1F6FC4" stroke-width="1.25"/>
<circle cx="600.10" cy="304.50" r="2.35" fill="none" stroke="#1F6FC4" stroke-width="1.25"/>
<circle cx="603.20" cy="301.50" r="2.59" fill="none" stroke="#00B050" stroke-width="1.25"/>
<circle cx="604.70" cy="305.50" r="2.59" fill="none" stroke="#00B050" stroke-width="1.25"/>
<circle cx="605.30" cy="309.60" r="2.59" fill="none" stroke="#00B050" stroke-width="1.25"/>
<circle cx="605.80" cy="314.70" r="2.59" fill="none" stroke="#00B050" stroke-width="1.25"/>
<circle cx="608.30" cy="312.70" r="2.59" fill="none" stroke="#00B050" stroke-width="1.25"/>
<circle cx="609.30" cy="310.70" r="2.59" fill="none" stroke="#00B050" stroke-width="1.25"/>
<circle cx="612.90" cy="306.10" r="2.59" fill="none" stroke="#00B050" stroke-width="1.25"/>
<circle cx="615.50" cy="302.00" r="2.59" fill="none" stroke="#00B050" stroke-width="1.25"/>
<circle cx="618.00" cy="299.90" r="2.59" fill="none" stroke="#00B050" stroke-width="1.25"/>
<circle cx="618.50" cy="304.00" r="2.59" fill="none" stroke="#00B050" stroke-width="1.25"/>
<circle cx="618.00" cy="310.70" r="2.59" fill="none" stroke="#00B050" stroke-width="1.25"/>
<circle cx="619.00" cy="316.80" r="2.59" fill="none" stroke="#00B050" stroke-width="1.25"/>
<circle cx="620.10" cy="322.90" r="2.59" fill="none" stroke="#00B050" stroke-width="1.25"/>
<circle cx="619.00" cy="330.10" r="2.59" fill="none" stroke="#00B050" stroke-width="1.25"/>
<circle cx="618.50" cy="336.20" r="2.59" fill="none" stroke="#00B050" stroke-width="1.25"/>
<circle cx="619.00" cy="341.30" r="2.59" fill="none" stroke="#00B050" stroke-width="1.25"/>
<circle cx="620.10" cy="347.40" r="2.59" fill="none" stroke="#00B050" stroke-width="1.25"/>
<circle cx="619.40" cy="352.50" r="2.59" fill="none" stroke="#00B050" stroke-width="1.25"/>
<circle cx="619.40" cy="357.50" r="2.59" fill="none" stroke="#00B050" stroke-width="1.25"/>
<circle cx="619.40" cy="362.50" r="2.59" fill="none" stroke="#00B050" stroke-width="1.25"/>
<circle cx="619.40" cy="367.90" r="2.59" fill="none" stroke="#00B050" stroke-width="1.25"/>
<path d="M408.00 434.00 L412.60 433.98 L417.20 433.91 L421.80 433.79 L426.40 433.62 L431.00 433.41 L435.60 433.16 L440.20 432.85 L444.80 432.50 L452.00 430.00 L460.70 424.50 L466.00 421.50" fill="none" stroke="#000000" stroke-width="1.15" stroke-linejoin="round" stroke-linecap="round"/>
<path d="M466.00 421.50 L472.80 418.30 L478.10 414.80 L484.50 410.70 L490.40 407.80 L495.00 404.90 L500.90 401.40 L505.50 399.00 L511.40 395.50 L517.80 392.60 L524.20 389.10 L530.10 386.20 L539.40 380.60" fill="none" stroke="#FF0000" stroke-width="1.15" stroke-linejoin="round" stroke-linecap="round"/>
<path d="M539.40 380.60 L543.80 376.20 L549.60 372.60 L554.70 369.60 L560.60 364.50 L566.40 360.10 L572.60 355.90 L577.10 352.70" fill="none" stroke="#1F6FC4" stroke-width="1.15" stroke-linejoin="round" stroke-linecap="round"/>
<path d="M577.10 352.70 L577.70 359.10 L577.70 363.50 L577.70 367.90 L577.70 375.50 L577.70 381.80 L577.70 386.90 L577.70 391.90 L578.50 398.20 L580.00 403.00 L580.50 407.50 L582.00 411.00" fill="none" stroke="#00B050" stroke-width="1.15" stroke-linejoin="round" stroke-linecap="round"/>
<path d="M408.00 431.10L410.80 434.00L408.00 436.90L405.20 434.00Z" fill="none" stroke="#000000" stroke-width="1.25"/>
<path d="M412.60 431.08L415.40 433.98L412.60 436.88L409.80 433.98Z" fill="none" stroke="#000000" stroke-width="1.25"/>
<path d="M417.20 431.01L420.00 433.91L417.20 436.81L414.40 433.91Z" fill="none" stroke="#000000" stroke-width="1.25"/>
<path d="M421.80 430.89L424.60 433.79L421.80 436.69L419.00 433.79Z" fill="none" stroke="#000000" stroke-width="1.25"/>
<path d="M426.40 430.73L429.20 433.62L426.40 436.52L423.60 433.62Z" fill="none" stroke="#000000" stroke-width="1.25"/>
<path d="M431.00 430.51L433.80 433.41L431.00 436.31L428.20 433.41Z" fill="none" stroke="#000000" stroke-width="1.25"/>
<path d="M435.60 430.26L438.40 433.16L435.60 436.06L432.80 433.16Z" fill="none" stroke="#000000" stroke-width="1.25"/>
<path d="M440.20 429.95L443.00 432.85L440.20 435.75L437.40 432.85Z" fill="none" stroke="#000000" stroke-width="1.25"/>
<path d="M444.80 429.60L447.60 432.50L444.80 435.40L442.00 432.50Z" fill="none" stroke="#000000" stroke-width="1.25"/>
<path d="M452.00 427.10L454.80 430.00L452.00 432.90L449.20 430.00Z" fill="none" stroke="#000000" stroke-width="1.25"/>
<path d="M460.70 421.60L463.50 424.50L460.70 427.40L457.90 424.50Z" fill="none" stroke="#000000" stroke-width="1.25"/>
<path d="M466.00 418.60L468.80 421.50L466.00 424.40L463.20 421.50Z" fill="none" stroke="#FF0000" stroke-width="1.25"/>
<path d="M472.80 415.40L475.60 418.30L472.80 421.20L470.00 418.30Z" fill="none" stroke="#FF0000" stroke-width="1.25"/>
<path d="M478.10 411.90L480.90 414.80L478.10 417.70L475.30 414.80Z" fill="none" stroke="#FF0000" stroke-width="1.25"/>
<path d="M484.50 407.80L487.30 410.70L484.50 413.60L481.70 410.70Z" fill="none" stroke="#FF0000" stroke-width="1.25"/>
<path d="M490.40 404.90L493.20 407.80L490.40 410.70L487.60 407.80Z" fill="none" stroke="#FF0000" stroke-width="1.25"/>
<path d="M495.00 402.00L497.80 404.90L495.00 407.80L492.20 404.90Z" fill="none" stroke="#FF0000" stroke-width="1.25"/>
<path d="M500.90 398.50L503.70 401.40L500.90 404.30L498.10 401.40Z" fill="none" stroke="#FF0000" stroke-width="1.25"/>
<path d="M505.50 396.10L508.30 399.00L505.50 401.90L502.70 399.00Z" fill="none" stroke="#FF0000" stroke-width="1.25"/>
<path d="M511.40 392.60L514.20 395.50L511.40 398.40L508.60 395.50Z" fill="none" stroke="#FF0000" stroke-width="1.25"/>
<path d="M517.80 389.70L520.60 392.60L517.80 395.50L515.00 392.60Z" fill="none" stroke="#FF0000" stroke-width="1.25"/>
<path d="M524.20 386.20L527.00 389.10L524.20 392.00L521.40 389.10Z" fill="none" stroke="#FF0000" stroke-width="1.25"/>
<path d="M530.10 383.30L532.90 386.20L530.10 389.10L527.30 386.20Z" fill="none" stroke="#FF0000" stroke-width="1.25"/>
<path d="M539.40 377.70L542.20 380.60L539.40 383.50L536.60 380.60Z" fill="none" stroke="#1F6FC4" stroke-width="1.25"/>
<path d="M543.80 373.30L546.60 376.20L543.80 379.10L541.00 376.20Z" fill="none" stroke="#1F6FC4" stroke-width="1.25"/>
<path d="M549.60 369.70L552.40 372.60L549.60 375.50L546.80 372.60Z" fill="none" stroke="#1F6FC4" stroke-width="1.25"/>
<path d="M554.70 366.70L557.50 369.60L554.70 372.50L551.90 369.60Z" fill="none" stroke="#1F6FC4" stroke-width="1.25"/>
<path d="M560.60 361.60L563.40 364.50L560.60 367.40L557.80 364.50Z" fill="none" stroke="#1F6FC4" stroke-width="1.25"/>
<path d="M566.40 357.20L569.20 360.10L566.40 363.00L563.60 360.10Z" fill="none" stroke="#1F6FC4" stroke-width="1.25"/>
<path d="M572.60 353.00L575.40 355.90L572.60 358.80L569.80 355.90Z" fill="none" stroke="#1F6FC4" stroke-width="1.25"/>
<path d="M577.10 350.52L579.20 352.70L577.10 354.88L575.00 352.70Z" fill="none" stroke="#00B050" stroke-width="1.25"/>
<path d="M577.70 356.93L579.80 359.10L577.70 361.28L575.60 359.10Z" fill="none" stroke="#00B050" stroke-width="1.25"/>
<path d="M577.70 361.32L579.80 363.50L577.70 365.68L575.60 363.50Z" fill="none" stroke="#00B050" stroke-width="1.25"/>
<path d="M577.70 365.72L579.80 367.90L577.70 370.07L575.60 367.90Z" fill="none" stroke="#00B050" stroke-width="1.25"/>
<path d="M577.70 373.32L579.80 375.50L577.70 377.68L575.60 375.50Z" fill="none" stroke="#00B050" stroke-width="1.25"/>
<path d="M577.70 379.62L579.80 381.80L577.70 383.98L575.60 381.80Z" fill="none" stroke="#00B050" stroke-width="1.25"/>
<path d="M577.70 384.72L579.80 386.90L577.70 389.07L575.60 386.90Z" fill="none" stroke="#00B050" stroke-width="1.25"/>
<path d="M577.70 389.72L579.80 391.90L577.70 394.07L575.60 391.90Z" fill="none" stroke="#00B050" stroke-width="1.25"/>
<path d="M578.50 396.02L580.60 398.20L578.50 400.38L576.40 398.20Z" fill="none" stroke="#00B050" stroke-width="1.25"/>
<path d="M580.00 400.82L582.10 403.00L580.00 405.18L577.90 403.00Z" fill="none" stroke="#00B050" stroke-width="1.25"/>
<path d="M580.50 405.32L582.60 407.50L580.50 409.68L578.40 407.50Z" fill="none" stroke="#00B050" stroke-width="1.25"/>
<path d="M582.00 408.82L584.10 411.00L582.00 413.18L579.90 411.00Z" fill="none" stroke="#00B050" stroke-width="1.25"/>
<path d="M407.00 434.00 L411.50 433.99 L416.00 433.97 L420.50 433.93 L425.00 433.87 L429.50 433.79 L434.00 433.70 L438.50 433.60 L443.00 433.47 L447.50 433.33 L452.00 433.17 L456.50 433.00 L463.00 433.00 L468.00 432.00 L478.70 428.20" fill="none" stroke="#000000" stroke-width="1.15" stroke-linejoin="round" stroke-linecap="round"/>
<path d="M478.70 428.20 L489.20 424.10 L497.40 420.00 L505.50 415.40 L513.70 408.90 L520.70 404.30 L527.70 400.30 L535.00 395.90 L541.60 392.30 L547.40 389.30 L556.90 383.50" fill="none" stroke="#FF0000" stroke-width="1.15" stroke-linejoin="round" stroke-linecap="round"/>
<path d="M556.90 383.50 L562.00 379.90 L567.20 375.50 L572.30 372.60 L578.10 370.40 L582.60 370.40 L587.40 369.40 L592.20 367.30 L596.40 366.50 L601.70 363.50" fill="none" stroke="#1F6FC4" stroke-width="1.15" stroke-linejoin="round" stroke-linecap="round"/>
<path d="M601.70 363.50 L603.00 367.90 L603.00 371.70 L603.00 375.50 L604.90 380.60 L604.90 384.30 L604.90 388.10 L606.80 393.20 L609.30 397.00 L611.80 400.10" fill="none" stroke="#00B050" stroke-width="1.15" stroke-linejoin="round" stroke-linecap="round"/>
<rect x="404.70" y="431.70" width="4.60" height="4.60" fill="none" stroke="#000000" stroke-width="1.25"/>
<rect x="409.20" y="431.69" width="4.60" height="4.60" fill="none" stroke="#000000" stroke-width="1.25"/>
<rect x="413.70" y="431.67" width="4.60" height="4.60" fill="none" stroke="#000000" stroke-width="1.25"/>
<rect x="418.20" y="431.63" width="4.60" height="4.60" fill="none" stroke="#000000" stroke-width="1.25"/>
<rect x="422.70" y="431.57" width="4.60" height="4.60" fill="none" stroke="#000000" stroke-width="1.25"/>
<rect x="427.20" y="431.49" width="4.60" height="4.60" fill="none" stroke="#000000" stroke-width="1.25"/>
<rect x="431.70" y="431.40" width="4.60" height="4.60" fill="none" stroke="#000000" stroke-width="1.25"/>
<rect x="436.20" y="431.30" width="4.60" height="4.60" fill="none" stroke="#000000" stroke-width="1.25"/>
<rect x="440.70" y="431.17" width="4.60" height="4.60" fill="none" stroke="#000000" stroke-width="1.25"/>
<rect x="445.20" y="431.03" width="4.60" height="4.60" fill="none" stroke="#000000" stroke-width="1.25"/>
<rect x="449.70" y="430.87" width="4.60" height="4.60" fill="none" stroke="#000000" stroke-width="1.25"/>
<rect x="454.20" y="430.70" width="4.60" height="4.60" fill="none" stroke="#000000" stroke-width="1.25"/>
<rect x="460.70" y="430.70" width="4.60" height="4.60" fill="none" stroke="#000000" stroke-width="1.25"/>
<rect x="465.70" y="429.70" width="4.60" height="4.60" fill="none" stroke="#000000" stroke-width="1.25"/>
<rect x="476.40" y="425.90" width="4.60" height="4.60" fill="none" stroke="#FF0000" stroke-width="1.25"/>
<rect x="486.90" y="421.80" width="4.60" height="4.60" fill="none" stroke="#FF0000" stroke-width="1.25"/>
<rect x="495.10" y="417.70" width="4.60" height="4.60" fill="none" stroke="#FF0000" stroke-width="1.25"/>
<rect x="503.20" y="413.10" width="4.60" height="4.60" fill="none" stroke="#FF0000" stroke-width="1.25"/>
<rect x="511.40" y="406.60" width="4.60" height="4.60" fill="none" stroke="#FF0000" stroke-width="1.25"/>
<rect x="518.40" y="402.00" width="4.60" height="4.60" fill="none" stroke="#FF0000" stroke-width="1.25"/>
<rect x="525.40" y="398.00" width="4.60" height="4.60" fill="none" stroke="#FF0000" stroke-width="1.25"/>
<rect x="532.70" y="393.60" width="4.60" height="4.60" fill="none" stroke="#FF0000" stroke-width="1.25"/>
<rect x="539.30" y="390.00" width="4.60" height="4.60" fill="none" stroke="#FF0000" stroke-width="1.25"/>
<rect x="545.10" y="387.00" width="4.60" height="4.60" fill="none" stroke="#FF0000" stroke-width="1.25"/>
<rect x="554.60" y="381.20" width="4.60" height="4.60" fill="none" stroke="#1F6FC4" stroke-width="1.25"/>
<rect x="559.70" y="377.60" width="4.60" height="4.60" fill="none" stroke="#1F6FC4" stroke-width="1.25"/>
<rect x="564.90" y="373.20" width="4.60" height="4.60" fill="none" stroke="#1F6FC4" stroke-width="1.25"/>
<rect x="570.00" y="370.30" width="4.60" height="4.60" fill="none" stroke="#1F6FC4" stroke-width="1.25"/>
<rect x="575.80" y="368.10" width="4.60" height="4.60" fill="none" stroke="#1F6FC4" stroke-width="1.25"/>
<rect x="580.30" y="368.10" width="4.60" height="4.60" fill="none" stroke="#1F6FC4" stroke-width="1.25"/>
<rect x="585.10" y="367.10" width="4.60" height="4.60" fill="none" stroke="#1F6FC4" stroke-width="1.25"/>
<rect x="589.90" y="365.00" width="4.60" height="4.60" fill="none" stroke="#1F6FC4" stroke-width="1.25"/>
<rect x="594.10" y="364.20" width="4.60" height="4.60" fill="none" stroke="#1F6FC4" stroke-width="1.25"/>
<rect x="599.17" y="360.97" width="5.06" height="5.06" fill="none" stroke="#00B050" stroke-width="1.25"/>
<rect x="600.47" y="365.37" width="5.06" height="5.06" fill="none" stroke="#00B050" stroke-width="1.25"/>
<rect x="600.47" y="369.17" width="5.06" height="5.06" fill="none" stroke="#00B050" stroke-width="1.25"/>
<rect x="600.47" y="372.97" width="5.06" height="5.06" fill="none" stroke="#00B050" stroke-width="1.25"/>
<rect x="602.37" y="378.07" width="5.06" height="5.06" fill="none" stroke="#00B050" stroke-width="1.25"/>
<rect x="602.37" y="381.77" width="5.06" height="5.06" fill="none" stroke="#00B050" stroke-width="1.25"/>
<rect x="602.37" y="385.57" width="5.06" height="5.06" fill="none" stroke="#00B050" stroke-width="1.25"/>
<rect x="604.27" y="390.67" width="5.06" height="5.06" fill="none" stroke="#00B050" stroke-width="1.25"/>
<rect x="606.77" y="394.47" width="5.06" height="5.06" fill="none" stroke="#00B050" stroke-width="1.25"/>
<rect x="609.27" y="397.57" width="5.06" height="5.06" fill="none" stroke="#00B050" stroke-width="1.25"/>
<path d="M409.00 434.20 L413.80 434.19 L418.60 434.17 L423.40 434.13 L428.20 434.07 L433.00 434.00 L437.80 433.92 L442.60 433.82 L447.40 433.70 L459.60 432.10" fill="none" stroke="#000000" stroke-width="1.15" stroke-linejoin="round" stroke-linecap="round"/>
<path d="M459.60 432.10 L467.20 428.60 L475.00 425.50 L483.40 422.40 L491.50 418.90 L499.00 415.00 L507.90 410.70 L515.00 407.50 L521.90 404.50 L529.00 403.50 L536.50 403.00" fill="none" stroke="#FF0000" stroke-width="1.15" stroke-linejoin="round" stroke-linecap="round"/>
<path d="M536.50 403.00 L543.10 401.00 L549.60 399.60 L556.20 396.60 L563.50 393.70 L570.00 391.50 L577.70 388.10 L585.30 384.30" fill="none" stroke="#1F6FC4" stroke-width="1.15" stroke-linejoin="round" stroke-linecap="round"/>
<path d="M585.30 384.30 L586.50 389.40 L584.00 393.00 L587.80 395.70 L585.30 400.80 L583.50 404.00 L586.50 405.80 L584.50 409.50 L587.80 412.10 L589.00 416.00 L591.50 414.50 L594.10 412.10 L597.90 408.40 L600.40 407.10" fill="none" stroke="#00B050" stroke-width="1.15" stroke-linejoin="round" stroke-linecap="round"/>
<path d="M409.00 431.70L411.80 436.70L406.20 436.70Z" fill="none" stroke="#000000" stroke-width="1.25" stroke-linejoin="miter"/>
<path d="M413.80 431.69L416.60 436.69L411.00 436.69Z" fill="none" stroke="#000000" stroke-width="1.25" stroke-linejoin="miter"/>
<path d="M418.60 431.67L421.40 436.67L415.80 436.67Z" fill="none" stroke="#000000" stroke-width="1.25" stroke-linejoin="miter"/>
<path d="M423.40 431.63L426.20 436.63L420.60 436.63Z" fill="none" stroke="#000000" stroke-width="1.25" stroke-linejoin="miter"/>
<path d="M428.20 431.57L431.00 436.57L425.40 436.57Z" fill="none" stroke="#000000" stroke-width="1.25" stroke-linejoin="miter"/>
<path d="M433.00 431.50L435.80 436.50L430.20 436.50Z" fill="none" stroke="#000000" stroke-width="1.25" stroke-linejoin="miter"/>
<path d="M437.80 431.42L440.60 436.42L435.00 436.42Z" fill="none" stroke="#000000" stroke-width="1.25" stroke-linejoin="miter"/>
<path d="M442.60 431.32L445.40 436.32L439.80 436.32Z" fill="none" stroke="#000000" stroke-width="1.25" stroke-linejoin="miter"/>
<path d="M447.40 431.20L450.20 436.20L444.60 436.20Z" fill="none" stroke="#000000" stroke-width="1.25" stroke-linejoin="miter"/>
<path d="M459.60 429.60L462.40 434.60L456.80 434.60Z" fill="none" stroke="#FF0000" stroke-width="1.25" stroke-linejoin="miter"/>
<path d="M467.20 426.10L470.00 431.10L464.40 431.10Z" fill="none" stroke="#FF0000" stroke-width="1.25" stroke-linejoin="miter"/>
<path d="M475.00 423.00L477.80 428.00L472.20 428.00Z" fill="none" stroke="#FF0000" stroke-width="1.25" stroke-linejoin="miter"/>
<path d="M483.40 419.90L486.20 424.90L480.60 424.90Z" fill="none" stroke="#FF0000" stroke-width="1.25" stroke-linejoin="miter"/>
<path d="M491.50 416.40L494.30 421.40L488.70 421.40Z" fill="none" stroke="#FF0000" stroke-width="1.25" stroke-linejoin="miter"/>
<path d="M499.00 412.50L501.80 417.50L496.20 417.50Z" fill="none" stroke="#FF0000" stroke-width="1.25" stroke-linejoin="miter"/>
<path d="M507.90 408.20L510.70 413.20L505.10 413.20Z" fill="none" stroke="#FF0000" stroke-width="1.25" stroke-linejoin="miter"/>
<path d="M515.00 405.00L517.80 410.00L512.20 410.00Z" fill="none" stroke="#FF0000" stroke-width="1.25" stroke-linejoin="miter"/>
<path d="M521.90 402.00L524.70 407.00L519.10 407.00Z" fill="none" stroke="#FF0000" stroke-width="1.25" stroke-linejoin="miter"/>
<path d="M529.00 401.00L531.80 406.00L526.20 406.00Z" fill="none" stroke="#FF0000" stroke-width="1.25" stroke-linejoin="miter"/>
<path d="M536.50 400.50L539.30 405.50L533.70 405.50Z" fill="none" stroke="#1F6FC4" stroke-width="1.25" stroke-linejoin="miter"/>
<path d="M543.10 398.50L545.90 403.50L540.30 403.50Z" fill="none" stroke="#1F6FC4" stroke-width="1.25" stroke-linejoin="miter"/>
<path d="M549.60 397.10L552.40 402.10L546.80 402.10Z" fill="none" stroke="#1F6FC4" stroke-width="1.25" stroke-linejoin="miter"/>
<path d="M556.20 394.10L559.00 399.10L553.40 399.10Z" fill="none" stroke="#1F6FC4" stroke-width="1.25" stroke-linejoin="miter"/>
<path d="M563.50 391.20L566.30 396.20L560.70 396.20Z" fill="none" stroke="#1F6FC4" stroke-width="1.25" stroke-linejoin="miter"/>
<path d="M570.00 389.00L572.80 394.00L567.20 394.00Z" fill="none" stroke="#1F6FC4" stroke-width="1.25" stroke-linejoin="miter"/>
<path d="M577.70 385.60L580.50 390.60L574.90 390.60Z" fill="none" stroke="#1F6FC4" stroke-width="1.25" stroke-linejoin="miter"/>
<path d="M585.30 381.55L588.38 387.05L582.22 387.05Z" fill="none" stroke="#00B050" stroke-width="1.25" stroke-linejoin="miter"/>
<path d="M586.50 386.65L589.58 392.15L583.42 392.15Z" fill="none" stroke="#00B050" stroke-width="1.25" stroke-linejoin="miter"/>
<path d="M584.00 390.25L587.08 395.75L580.92 395.75Z" fill="none" stroke="#00B050" stroke-width="1.25" stroke-linejoin="miter"/>
<path d="M587.80 392.95L590.88 398.45L584.72 398.45Z" fill="none" stroke="#00B050" stroke-width="1.25" stroke-linejoin="miter"/>
<path d="M585.30 398.05L588.38 403.55L582.22 403.55Z" fill="none" stroke="#00B050" stroke-width="1.25" stroke-linejoin="miter"/>
<path d="M583.50 401.25L586.58 406.75L580.42 406.75Z" fill="none" stroke="#00B050" stroke-width="1.25" stroke-linejoin="miter"/>
<path d="M586.50 403.05L589.58 408.55L583.42 408.55Z" fill="none" stroke="#00B050" stroke-width="1.25" stroke-linejoin="miter"/>
<path d="M584.50 406.75L587.58 412.25L581.42 412.25Z" fill="none" stroke="#00B050" stroke-width="1.25" stroke-linejoin="miter"/>
<path d="M587.80 409.35L590.88 414.85L584.72 414.85Z" fill="none" stroke="#00B050" stroke-width="1.25" stroke-linejoin="miter"/>
<path d="M589.00 413.25L592.08 418.75L585.92 418.75Z" fill="none" stroke="#00B050" stroke-width="1.25" stroke-linejoin="miter"/>
<path d="M591.50 411.75L594.58 417.25L588.42 417.25Z" fill="none" stroke="#00B050" stroke-width="1.25" stroke-linejoin="miter"/>
<path d="M594.10 409.35L597.18 414.85L591.02 414.85Z" fill="none" stroke="#00B050" stroke-width="1.25" stroke-linejoin="miter"/>
<path d="M597.90 405.65L600.98 411.15L594.82 411.15Z" fill="none" stroke="#00B050" stroke-width="1.25" stroke-linejoin="miter"/>
<path d="M600.40 404.35L603.48 409.85L597.32 409.85Z" fill="none" stroke="#00B050" stroke-width="1.25" stroke-linejoin="miter"/>
<path d="M46.80 667.60 L55.10 667.40 L62.30 666.90 L68.90 666.70 L76.80 666.30 L84.00 665.40 L91.20 664.00 L98.50 661.40 L107.00 658.10 L115.50 651.00 L122.40 646.90" fill="none" stroke="#000000" stroke-width="1.0" stroke-linejoin="round" stroke-linecap="round"/>
<path d="M122.40 646.90 L129.40 641.10 L136.80 633.90 L144.80 626.50 L152.60 619.00 L161.10 609.50 L168.00 600.50 L175.00 592.10 L184.30 580.20 L190.90 569.30" fill="none" stroke="#FF0000" stroke-width="1.0" stroke-linejoin="round" stroke-linecap="round"/>
<path d="M190.90 569.30 L198.20 559.30 L203.70 551.10 L210.50 541.90 L214.70 534.20 L218.30 529.20 L223.30 520.50 L227.00 514.60" fill="none" stroke="#1F6FC4" stroke-width="1.0" stroke-linejoin="round" stroke-linecap="round"/>
<path d="M227.00 514.60 L228.20 519.00 L229.60 524.10 L228.90 532.80 L230.40 539.40 L230.40 546.00 L230.40 554.70 L231.10 559.10 L236.20 558.40 L239.90 554.00 L244.20 556.20 L248.60 559.70 L252.60 567.90 L254.50 576.80 L254.50 580.80" fill="none" stroke="#00B050" stroke-width="1.0" stroke-linejoin="round" stroke-linecap="round"/>
<circle cx="46.80" cy="667.60" r="2.80" fill="none" stroke="#000000" stroke-width="1.1"/>
<circle cx="55.10" cy="667.40" r="2.80" fill="none" stroke="#000000" stroke-width="1.1"/>
<circle cx="62.30" cy="666.90" r="2.80" fill="none" stroke="#000000" stroke-width="1.1"/>
<circle cx="68.90" cy="666.70" r="2.80" fill="none" stroke="#000000" stroke-width="1.1"/>
<circle cx="76.80" cy="666.30" r="2.80" fill="none" stroke="#000000" stroke-width="1.1"/>
<circle cx="84.00" cy="665.40" r="2.80" fill="none" stroke="#000000" stroke-width="1.1"/>
<circle cx="91.20" cy="664.00" r="2.80" fill="none" stroke="#000000" stroke-width="1.1"/>
<circle cx="98.50" cy="661.40" r="2.80" fill="none" stroke="#000000" stroke-width="1.1"/>
<circle cx="107.00" cy="658.10" r="2.80" fill="none" stroke="#000000" stroke-width="1.1"/>
<circle cx="115.50" cy="651.00" r="2.80" fill="none" stroke="#000000" stroke-width="1.1"/>
<circle cx="122.40" cy="646.90" r="2.80" fill="none" stroke="#FF0000" stroke-width="1.1"/>
<circle cx="129.40" cy="641.10" r="2.80" fill="none" stroke="#FF0000" stroke-width="1.1"/>
<circle cx="136.80" cy="633.90" r="2.80" fill="none" stroke="#FF0000" stroke-width="1.1"/>
<circle cx="144.80" cy="626.50" r="2.80" fill="none" stroke="#FF0000" stroke-width="1.1"/>
<circle cx="152.60" cy="619.00" r="2.80" fill="none" stroke="#FF0000" stroke-width="1.1"/>
<circle cx="161.10" cy="609.50" r="2.80" fill="none" stroke="#FF0000" stroke-width="1.1"/>
<circle cx="168.00" cy="600.50" r="2.80" fill="none" stroke="#FF0000" stroke-width="1.1"/>
<circle cx="175.00" cy="592.10" r="2.80" fill="none" stroke="#FF0000" stroke-width="1.1"/>
<circle cx="184.30" cy="580.20" r="2.80" fill="none" stroke="#FF0000" stroke-width="1.1"/>
<circle cx="190.90" cy="569.30" r="3.30" fill="none" stroke="#1F6FC4" stroke-width="1.1"/>
<circle cx="198.20" cy="559.30" r="3.30" fill="none" stroke="#1F6FC4" stroke-width="1.1"/>
<circle cx="203.70" cy="551.10" r="3.30" fill="none" stroke="#1F6FC4" stroke-width="1.1"/>
<circle cx="210.50" cy="541.90" r="3.30" fill="none" stroke="#1F6FC4" stroke-width="1.1"/>
<circle cx="214.70" cy="534.20" r="3.30" fill="none" stroke="#1F6FC4" stroke-width="1.1"/>
<circle cx="218.30" cy="529.20" r="3.30" fill="none" stroke="#1F6FC4" stroke-width="1.1"/>
<circle cx="223.30" cy="520.50" r="3.30" fill="none" stroke="#1F6FC4" stroke-width="1.1"/>
<circle cx="227.00" cy="514.60" r="2.52" fill="none" stroke="#00B050" stroke-width="1.1"/>
<circle cx="228.20" cy="519.00" r="2.52" fill="none" stroke="#00B050" stroke-width="1.1"/>
<circle cx="229.60" cy="524.10" r="2.52" fill="none" stroke="#00B050" stroke-width="1.1"/>
<circle cx="228.90" cy="532.80" r="2.52" fill="none" stroke="#00B050" stroke-width="1.1"/>
<circle cx="230.40" cy="539.40" r="2.52" fill="none" stroke="#00B050" stroke-width="1.1"/>
<circle cx="230.40" cy="546.00" r="2.52" fill="none" stroke="#00B050" stroke-width="1.1"/>
<circle cx="230.40" cy="554.70" r="2.52" fill="none" stroke="#00B050" stroke-width="1.1"/>
<circle cx="231.10" cy="559.10" r="2.52" fill="none" stroke="#00B050" stroke-width="1.1"/>
<circle cx="236.20" cy="558.40" r="2.52" fill="none" stroke="#00B050" stroke-width="1.1"/>
<circle cx="239.90" cy="554.00" r="2.52" fill="none" stroke="#00B050" stroke-width="1.1"/>
<circle cx="244.20" cy="556.20" r="2.52" fill="none" stroke="#00B050" stroke-width="1.1"/>
<circle cx="248.60" cy="559.70" r="2.52" fill="none" stroke="#00B050" stroke-width="1.1"/>
<circle cx="252.60" cy="567.90" r="2.52" fill="none" stroke="#00B050" stroke-width="1.1"/>
<circle cx="254.50" cy="576.80" r="2.52" fill="none" stroke="#00B050" stroke-width="1.1"/>
<circle cx="254.50" cy="580.80" r="2.52" fill="none" stroke="#00B050" stroke-width="1.1"/>
<path d="M46.80 667.80 L56.40 668.80 L68.90 668.00 L74.20 668.80 L107.00 667.30 L132.80 653.70" fill="none" stroke="#000000" stroke-width="1.0" stroke-linejoin="round" stroke-linecap="round"/>
<path d="M132.80 653.70 L142.00 648.60 L156.30 638.90 L169.30 630.00 L176.00 624.70 L182.70 619.30 L193.30 612.00 L200.00 608.00 L212.00 600.70 L223.30 592.00 L237.30 582.90" fill="none" stroke="#FF0000" stroke-width="1.0" stroke-linejoin="round" stroke-linecap="round"/>
<path d="M237.30 582.90 L243.50 576.00 L249.30 567.80 L254.00 560.50 L260.10 553.20 L264.80 548.10 L270.10 542.60" fill="none" stroke="#1F6FC4" stroke-width="1.0" stroke-linejoin="round" stroke-linecap="round"/>
<path d="M270.10 542.60 L272.20 548.30 L272.20 554.60 L272.60 562.90 L272.60 567.90 L272.60 577.40 L272.20 585.00 L272.20 590.70 L277.30 590.00 L282.30 585.00 L286.80 581.20 L288.00 586.90 L286.80 595.70 L286.10 602.00 L286.10 608.30 L288.60 611.50 L292.40 612.80 L296.90 614.00" fill="none" stroke="#00B050" stroke-width="1.0" stroke-linejoin="round" stroke-linecap="round"/>
<path d="M46.80 664.80L49.70 667.80L46.80 670.80L43.90 667.80Z" fill="none" stroke="#000000" stroke-width="1.1"/>
<path d="M56.40 665.80L59.30 668.80L56.40 671.80L53.50 668.80Z" fill="none" stroke="#000000" stroke-width="1.1"/>
<path d="M68.90 665.00L71.80 668.00L68.90 671.00L66.00 668.00Z" fill="none" stroke="#000000" stroke-width="1.1"/>
<path d="M74.20 665.80L77.10 668.80L74.20 671.80L71.30 668.80Z" fill="none" stroke="#000000" stroke-width="1.1"/>
<path d="M107.00 664.30L109.90 667.30L107.00 670.30L104.10 667.30Z" fill="none" stroke="#000000" stroke-width="1.1"/>
<path d="M132.80 650.85L135.56 653.70L132.80 656.55L130.05 653.70Z" fill="none" stroke="#FF0000" stroke-width="1.1"/>
<path d="M142.00 645.75L144.75 648.60L142.00 651.45L139.25 648.60Z" fill="none" stroke="#FF0000" stroke-width="1.1"/>
<path d="M156.30 636.05L159.06 638.90L156.30 641.75L153.55 638.90Z" fill="none" stroke="#FF0000" stroke-width="1.1"/>
<path d="M169.30 627.15L172.06 630.00L169.30 632.85L166.55 630.00Z" fill="none" stroke="#FF0000" stroke-width="1.1"/>
<path d="M176.00 621.85L178.75 624.70L176.00 627.55L173.25 624.70Z" fill="none" stroke="#FF0000" stroke-width="1.1"/>
<path d="M182.70 616.45L185.45 619.30L182.70 622.15L179.94 619.30Z" fill="none" stroke="#FF0000" stroke-width="1.1"/>
<path d="M193.30 609.15L196.06 612.00L193.30 614.85L190.55 612.00Z" fill="none" stroke="#FF0000" stroke-width="1.1"/>
<path d="M200.00 605.15L202.75 608.00L200.00 610.85L197.25 608.00Z" fill="none" stroke="#FF0000" stroke-width="1.1"/>
<path d="M212.00 597.85L214.75 600.70L212.00 603.55L209.25 600.70Z" fill="none" stroke="#FF0000" stroke-width="1.1"/>
<path d="M223.30 589.15L226.06 592.00L223.30 594.85L220.55 592.00Z" fill="none" stroke="#FF0000" stroke-width="1.1"/>
<path d="M237.30 578.85L241.22 582.90L237.30 586.95L233.39 582.90Z" fill="none" stroke="#1F6FC4" stroke-width="1.1"/>
<path d="M243.50 571.95L247.41 576.00L243.50 580.05L239.59 576.00Z" fill="none" stroke="#1F6FC4" stroke-width="1.1"/>
<path d="M249.30 563.75L253.22 567.80L249.30 571.85L245.39 567.80Z" fill="none" stroke="#1F6FC4" stroke-width="1.1"/>
<path d="M254.00 556.45L257.92 560.50L254.00 564.55L250.09 560.50Z" fill="none" stroke="#1F6FC4" stroke-width="1.1"/>
<path d="M260.10 549.15L264.02 553.20L260.10 557.25L256.19 553.20Z" fill="none" stroke="#1F6FC4" stroke-width="1.1"/>
<path d="M264.80 544.05L268.72 548.10L264.80 552.15L260.88 548.10Z" fill="none" stroke="#1F6FC4" stroke-width="1.1"/>
<path d="M270.10 539.96L272.65 542.60L270.10 545.24L267.55 542.60Z" fill="none" stroke="#00B050" stroke-width="1.1"/>
<path d="M272.20 545.66L274.75 548.30L272.20 550.94L269.65 548.30Z" fill="none" stroke="#00B050" stroke-width="1.1"/>
<path d="M272.20 551.96L274.75 554.60L272.20 557.24L269.65 554.60Z" fill="none" stroke="#00B050" stroke-width="1.1"/>
<path d="M272.60 560.26L275.15 562.90L272.60 565.54L270.05 562.90Z" fill="none" stroke="#00B050" stroke-width="1.1"/>
<path d="M272.60 565.26L275.15 567.90L272.60 570.54L270.05 567.90Z" fill="none" stroke="#00B050" stroke-width="1.1"/>
<path d="M272.60 574.76L275.15 577.40L272.60 580.04L270.05 577.40Z" fill="none" stroke="#00B050" stroke-width="1.1"/>
<path d="M272.20 582.36L274.75 585.00L272.20 587.64L269.65 585.00Z" fill="none" stroke="#00B050" stroke-width="1.1"/>
<path d="M272.20 588.06L274.75 590.70L272.20 593.34L269.65 590.70Z" fill="none" stroke="#00B050" stroke-width="1.1"/>
<path d="M277.30 587.36L279.85 590.00L277.30 592.64L274.75 590.00Z" fill="none" stroke="#00B050" stroke-width="1.1"/>
<path d="M282.30 582.36L284.85 585.00L282.30 587.64L279.75 585.00Z" fill="none" stroke="#00B050" stroke-width="1.1"/>
<path d="M286.80 578.56L289.35 581.20L286.80 583.84L284.25 581.20Z" fill="none" stroke="#00B050" stroke-width="1.1"/>
<path d="M288.00 584.26L290.55 586.90L288.00 589.54L285.45 586.90Z" fill="none" stroke="#00B050" stroke-width="1.1"/>
<path d="M286.80 593.06L289.35 595.70L286.80 598.34L284.25 595.70Z" fill="none" stroke="#00B050" stroke-width="1.1"/>
<path d="M286.10 599.36L288.65 602.00L286.10 604.64L283.55 602.00Z" fill="none" stroke="#00B050" stroke-width="1.1"/>
<path d="M286.10 605.66L288.65 608.30L286.10 610.94L283.55 608.30Z" fill="none" stroke="#00B050" stroke-width="1.1"/>
<path d="M288.60 608.86L291.15 611.50L288.60 614.14L286.05 611.50Z" fill="none" stroke="#00B050" stroke-width="1.1"/>
<path d="M292.40 610.16L294.95 612.80L292.40 615.44L289.85 612.80Z" fill="none" stroke="#00B050" stroke-width="1.1"/>
<path d="M296.90 611.36L299.45 614.00L296.90 616.64L294.35 614.00Z" fill="none" stroke="#00B050" stroke-width="1.1"/>
<path d="M46.80 667.60 L68.90 667.50 L99.80 667.30 L106.20 668.30" fill="none" stroke="#000000" stroke-width="1.0" stroke-linejoin="round" stroke-linecap="round"/>
<path d="M106.20 668.30 L124.10 655.80 L136.40 647.60 L146.10 638.60 L157.30 628.70 L166.70 618.70 L176.60 608.70" fill="none" stroke="#FF0000" stroke-width="1.0" stroke-linejoin="round" stroke-linecap="round"/>
<path d="M176.60 608.70 L182.70 602.60 L190.90 595.40 L197.30 590.00 L200.00 588.70" fill="none" stroke="#1F6FC4" stroke-width="1.0" stroke-linejoin="round" stroke-linecap="round"/>
<path d="M200.00 588.70 L204.00 594.70 L205.30 606.00 L206.00 612.00 L206.00 616.70 L212.70 618.70 L217.30 620.70 L222.00 621.30" fill="none" stroke="#00B050" stroke-width="1.0" stroke-linejoin="round" stroke-linecap="round"/>
<rect x="44.40" y="665.20" width="4.80" height="4.80" fill="none" stroke="#000000" stroke-width="1.1"/>
<rect x="66.50" y="665.10" width="4.80" height="4.80" fill="none" stroke="#000000" stroke-width="1.1"/>
<rect x="97.40" y="664.90" width="4.80" height="4.80" fill="none" stroke="#000000" stroke-width="1.1"/>
<rect x="121.82" y="653.52" width="4.56" height="4.56" fill="none" stroke="#FF0000" stroke-width="1.1"/>
<rect x="134.12" y="645.32" width="4.56" height="4.56" fill="none" stroke="#FF0000" stroke-width="1.1"/>
<rect x="143.82" y="636.32" width="4.56" height="4.56" fill="none" stroke="#FF0000" stroke-width="1.1"/>
<rect x="155.02" y="626.42" width="4.56" height="4.56" fill="none" stroke="#FF0000" stroke-width="1.1"/>
<rect x="164.42" y="616.42" width="4.56" height="4.56" fill="none" stroke="#FF0000" stroke-width="1.1"/>
<rect x="173.48" y="605.58" width="6.24" height="6.24" fill="none" stroke="#1F6FC4" stroke-width="1.1"/>
<rect x="179.58" y="599.48" width="6.24" height="6.24" fill="none" stroke="#1F6FC4" stroke-width="1.1"/>
<rect x="187.78" y="592.28" width="6.24" height="6.24" fill="none" stroke="#1F6FC4" stroke-width="1.1"/>
<rect x="194.18" y="586.88" width="6.24" height="6.24" fill="none" stroke="#1F6FC4" stroke-width="1.1"/>
<rect x="197.65" y="586.35" width="4.70" height="4.70" fill="none" stroke="#00B050" stroke-width="1.1"/>
<rect x="201.65" y="592.35" width="4.70" height="4.70" fill="none" stroke="#00B050" stroke-width="1.1"/>
<rect x="202.95" y="603.65" width="4.70" height="4.70" fill="none" stroke="#00B050" stroke-width="1.1"/>
<rect x="203.65" y="609.65" width="4.70" height="4.70" fill="none" stroke="#00B050" stroke-width="1.1"/>
<rect x="203.65" y="614.35" width="4.70" height="4.70" fill="none" stroke="#00B050" stroke-width="1.1"/>
<rect x="210.35" y="616.35" width="4.70" height="4.70" fill="none" stroke="#00B050" stroke-width="1.1"/>
<rect x="214.95" y="618.35" width="4.70" height="4.70" fill="none" stroke="#00B050" stroke-width="1.1"/>
<rect x="219.65" y="618.95" width="4.70" height="4.70" fill="none" stroke="#00B050" stroke-width="1.1"/>
<path d="M46.80 667.80 L68.90 667.50 L104.00 667.50 L115.30 665.80 L126.20 663.40 L134.90 658.30" fill="none" stroke="#000000" stroke-width="1.0" stroke-linejoin="round" stroke-linecap="round"/>
<path d="M134.90 658.30 L145.10 653.70 L150.20 650.10 L162.20 642.00 L171.30 638.00" fill="none" stroke="#FF0000" stroke-width="1.0" stroke-linejoin="round" stroke-linecap="round"/>
<path d="M171.30 638.00 L179.30 631.30 L186.00 627.30 L190.00 623.30 L193.40 622.70" fill="none" stroke="#1F6FC4" stroke-width="1.0" stroke-linejoin="round" stroke-linecap="round"/>
<path d="M193.40 622.70 L194.00 632.00 L194.00 638.00 L194.00 643.30 L194.70 650.00 L194.70 654.00 L200.00 647.30 L202.70 651.30 L206.00 655.30" fill="none" stroke="#00B050" stroke-width="1.0" stroke-linejoin="round" stroke-linecap="round"/>
<path d="M46.80 664.90L50.00 670.70L43.60 670.70Z" fill="none" stroke="#000000" stroke-width="1.1" stroke-linejoin="miter"/>
<path d="M68.90 664.60L72.10 670.40L65.70 670.40Z" fill="none" stroke="#000000" stroke-width="1.1" stroke-linejoin="miter"/>
<path d="M104.00 664.60L107.20 670.40L100.80 670.40Z" fill="none" stroke="#000000" stroke-width="1.1" stroke-linejoin="miter"/>
<path d="M115.30 662.90L118.50 668.70L112.10 668.70Z" fill="none" stroke="#000000" stroke-width="1.1" stroke-linejoin="miter"/>
<path d="M126.20 660.50L129.40 666.30L123.00 666.30Z" fill="none" stroke="#000000" stroke-width="1.1" stroke-linejoin="miter"/>
<path d="M134.90 655.69L137.78 660.91L132.02 660.91Z" fill="none" stroke="#FF0000" stroke-width="1.1" stroke-linejoin="miter"/>
<path d="M145.10 651.09L147.98 656.31L142.22 656.31Z" fill="none" stroke="#FF0000" stroke-width="1.1" stroke-linejoin="miter"/>
<path d="M150.20 647.49L153.08 652.71L147.32 652.71Z" fill="none" stroke="#FF0000" stroke-width="1.1" stroke-linejoin="miter"/>
<path d="M162.20 639.39L165.08 644.61L159.32 644.61Z" fill="none" stroke="#FF0000" stroke-width="1.1" stroke-linejoin="miter"/>
<path d="M171.30 634.23L175.46 641.77L167.14 641.77Z" fill="none" stroke="#1F6FC4" stroke-width="1.1" stroke-linejoin="miter"/>
<path d="M179.30 627.53L183.46 635.07L175.14 635.07Z" fill="none" stroke="#1F6FC4" stroke-width="1.1" stroke-linejoin="miter"/>
<path d="M186.00 623.53L190.16 631.07L181.84 631.07Z" fill="none" stroke="#1F6FC4" stroke-width="1.1" stroke-linejoin="miter"/>
<path d="M190.00 619.53L194.16 627.07L185.84 627.07Z" fill="none" stroke="#1F6FC4" stroke-width="1.1" stroke-linejoin="miter"/>
<path d="M193.40 619.51L196.92 625.89L189.88 625.89Z" fill="none" stroke="#00B050" stroke-width="1.1" stroke-linejoin="miter"/>
<path d="M194.00 628.81L197.52 635.19L190.48 635.19Z" fill="none" stroke="#00B050" stroke-width="1.1" stroke-linejoin="miter"/>
<path d="M194.00 634.81L197.52 641.19L190.48 641.19Z" fill="none" stroke="#00B050" stroke-width="1.1" stroke-linejoin="miter"/>
<path d="M194.00 640.11L197.52 646.49L190.48 646.49Z" fill="none" stroke="#00B050" stroke-width="1.1" stroke-linejoin="miter"/>
<path d="M194.70 646.81L198.22 653.19L191.18 653.19Z" fill="none" stroke="#00B050" stroke-width="1.1" stroke-linejoin="miter"/>
<path d="M194.70 650.81L198.22 657.19L191.18 657.19Z" fill="none" stroke="#00B050" stroke-width="1.1" stroke-linejoin="miter"/>
<path d="M200.00 644.11L203.52 650.49L196.48 650.49Z" fill="none" stroke="#00B050" stroke-width="1.1" stroke-linejoin="miter"/>
<path d="M202.70 648.11L206.22 654.49L199.18 654.49Z" fill="none" stroke="#00B050" stroke-width="1.1" stroke-linejoin="miter"/>
<path d="M206.00 652.11L209.52 658.49L202.48 658.49Z" fill="none" stroke="#00B050" stroke-width="1.1" stroke-linejoin="miter"/>
<path d="M407.50 666.20 L413.10 666.20 L419.70 666.20 L425.60 666.20 L433.50 666.20 L444.00 666.10 L451.20 665.80 L455.20 665.50 L459.80 664.80 L464.40 663.20 L469.00 661.50 L473.00 659.80 L477.60 657.80 L483.50 653.50" fill="none" stroke="#000000" stroke-width="1.15" stroke-linejoin="round" stroke-linecap="round"/>
<path d="M483.50 653.50 L490.10 648.90 L497.60 643.30 L505.50 637.00 L513.70 631.40 L521.80 624.10 L532.60 614.90 L537.70 609.80 L543.90 604.00 L550.10 598.60 L556.80 590.50 L565.10 581.60 L584.60 565.80" fill="none" stroke="#FF0000" stroke-width="1.15" stroke-linejoin="round" stroke-linecap="round"/>
<path d="M584.60 565.80 L591.30 559.80 L597.70 554.00 L608.70 543.20 L613.00 538.20 L619.60 530.70 L623.60 525.50 L627.60 519.70 L631.70 516.10" fill="none" stroke="#1F6FC4" stroke-width="1.15" stroke-linejoin="round" stroke-linecap="round"/>
<path d="M631.70 516.10 L634.00 526.30 L634.00 537.20 L633.80 548.50 L633.70 556.60 L633.60 565.60 L638.10 573.60 L635.20 579.40 L639.60 581.60 L641.80 587.40 L642.50 591.80 L642.50 599.10 L642.50 602.80 L648.30 601.30 L652.70 599.90" fill="none" stroke="#00B050" stroke-width="1.15" stroke-linejoin="round" stroke-linecap="round"/>
<circle cx="407.50" cy="666.20" r="2.20" fill="none" stroke="#000000" stroke-width="1.3"/>
<circle cx="413.10" cy="666.20" r="2.20" fill="none" stroke="#000000" stroke-width="1.3"/>
<circle cx="419.70" cy="666.20" r="2.20" fill="none" stroke="#000000" stroke-width="1.3"/>
<circle cx="425.60" cy="666.20" r="2.20" fill="none" stroke="#000000" stroke-width="1.3"/>
<circle cx="433.50" cy="666.20" r="2.20" fill="none" stroke="#000000" stroke-width="1.3"/>
<circle cx="444.00" cy="666.10" r="2.20" fill="none" stroke="#000000" stroke-width="1.3"/>
<circle cx="451.20" cy="665.80" r="2.20" fill="none" stroke="#000000" stroke-width="1.3"/>
<circle cx="455.20" cy="665.50" r="2.20" fill="none" stroke="#000000" stroke-width="1.3"/>
<circle cx="459.80" cy="664.80" r="2.20" fill="none" stroke="#000000" stroke-width="1.3"/>
<circle cx="464.40" cy="663.20" r="2.20" fill="none" stroke="#000000" stroke-width="1.3"/>
<circle cx="469.00" cy="661.50" r="2.20" fill="none" stroke="#000000" stroke-width="1.3"/>
<circle cx="473.00" cy="659.80" r="2.20" fill="none" stroke="#000000" stroke-width="1.3"/>
<circle cx="477.60" cy="657.80" r="2.20" fill="none" stroke="#000000" stroke-width="1.3"/>
<circle cx="483.50" cy="653.50" r="2.20" fill="none" stroke="#FF0000" stroke-width="1.3"/>
<circle cx="490.10" cy="648.90" r="2.20" fill="none" stroke="#FF0000" stroke-width="1.3"/>
<circle cx="497.60" cy="643.30" r="2.20" fill="none" stroke="#FF0000" stroke-width="1.3"/>
<circle cx="505.50" cy="637.00" r="2.20" fill="none" stroke="#FF0000" stroke-width="1.3"/>
<circle cx="513.70" cy="631.40" r="2.20" fill="none" stroke="#FF0000" stroke-width="1.3"/>
<circle cx="521.80" cy="624.10" r="2.20" fill="none" stroke="#FF0000" stroke-width="1.3"/>
<circle cx="532.60" cy="614.90" r="2.20" fill="none" stroke="#FF0000" stroke-width="1.3"/>
<circle cx="537.70" cy="609.80" r="2.20" fill="none" stroke="#FF0000" stroke-width="1.3"/>
<circle cx="543.90" cy="604.00" r="2.20" fill="none" stroke="#FF0000" stroke-width="1.3"/>
<circle cx="550.10" cy="598.60" r="2.20" fill="none" stroke="#FF0000" stroke-width="1.3"/>
<circle cx="556.80" cy="590.50" r="2.20" fill="none" stroke="#FF0000" stroke-width="1.3"/>
<circle cx="565.10" cy="581.60" r="2.20" fill="none" stroke="#FF0000" stroke-width="1.3"/>
<circle cx="584.60" cy="565.80" r="2.20" fill="none" stroke="#1F6FC4" stroke-width="1.3"/>
<circle cx="591.30" cy="559.80" r="2.20" fill="none" stroke="#1F6FC4" stroke-width="1.3"/>
<circle cx="597.70" cy="554.00" r="2.20" fill="none" stroke="#1F6FC4" stroke-width="1.3"/>
<circle cx="608.70" cy="543.20" r="2.20" fill="none" stroke="#1F6FC4" stroke-width="1.3"/>
<circle cx="613.00" cy="538.20" r="2.20" fill="none" stroke="#1F6FC4" stroke-width="1.3"/>
<circle cx="619.60" cy="530.70" r="2.20" fill="none" stroke="#1F6FC4" stroke-width="1.3"/>
<circle cx="623.60" cy="525.50" r="2.20" fill="none" stroke="#1F6FC4" stroke-width="1.3"/>
<circle cx="627.60" cy="519.70" r="2.20" fill="none" stroke="#1F6FC4" stroke-width="1.3"/>
<circle cx="631.70" cy="516.10" r="2.42" fill="none" stroke="#00B050" stroke-width="1.3"/>
<circle cx="634.00" cy="526.30" r="2.42" fill="none" stroke="#00B050" stroke-width="1.3"/>
<circle cx="634.00" cy="537.20" r="2.42" fill="none" stroke="#00B050" stroke-width="1.3"/>
<circle cx="633.80" cy="548.50" r="2.42" fill="none" stroke="#00B050" stroke-width="1.3"/>
<circle cx="633.70" cy="556.60" r="2.42" fill="none" stroke="#00B050" stroke-width="1.3"/>
<circle cx="633.60" cy="565.60" r="2.42" fill="none" stroke="#00B050" stroke-width="1.3"/>
<circle cx="638.10" cy="573.60" r="2.42" fill="none" stroke="#00B050" stroke-width="1.3"/>
<circle cx="635.20" cy="579.40" r="2.42" fill="none" stroke="#00B050" stroke-width="1.3"/>
<circle cx="639.60" cy="581.60" r="2.42" fill="none" stroke="#00B050" stroke-width="1.3"/>
<circle cx="641.80" cy="587.40" r="2.42" fill="none" stroke="#00B050" stroke-width="1.3"/>
<circle cx="642.50" cy="591.80" r="2.42" fill="none" stroke="#00B050" stroke-width="1.3"/>
<circle cx="642.50" cy="599.10" r="2.42" fill="none" stroke="#00B050" stroke-width="1.3"/>
<circle cx="642.50" cy="602.80" r="2.42" fill="none" stroke="#00B050" stroke-width="1.3"/>
<circle cx="648.30" cy="601.30" r="2.42" fill="none" stroke="#00B050" stroke-width="1.3"/>
<circle cx="652.70" cy="599.90" r="2.42" fill="none" stroke="#00B050" stroke-width="1.3"/>
<path d="M407.50 666.30 L451.20 666.00 L458.00 664.50 L466.00 660.00 L475.00 651.90" fill="none" stroke="#000000" stroke-width="1.15" stroke-linejoin="round" stroke-linecap="round"/>
<path d="M475.00 651.90 L484.90 641.80 L497.50 630.30 L504.80 621.80 L512.00 612.60 L518.20 604.80 L528.70 591.70 L539.60 577.80" fill="none" stroke="#FF0000" stroke-width="1.15" stroke-linejoin="round" stroke-linecap="round"/>
<path d="M539.60 577.80 L546.60 567.20 L550.20 562.00 L554.60 556.20 L557.50 553.30 L561.60 546.00 L566.30 536.50 L569.90 530.70 L571.80 526.30" fill="none" stroke="#1F6FC4" stroke-width="1.15" stroke-linejoin="round" stroke-linecap="round"/>
<path d="M571.80 526.30 L574.30 529.90 L574.30 542.30 L574.20 550.40 L573.90 559.80 L573.90 567.10 L573.50 572.50 L584.00 572.80 L589.00 572.50 L588.50 577.20 L588.50 583.10 L590.70 589.60 L593.60 592.60 L598.00 594.00 L600.90 594.00" fill="none" stroke="#00B050" stroke-width="1.15" stroke-linejoin="round" stroke-linecap="round"/>
<path d="M407.50 663.85L409.70 666.30L407.50 668.75L405.30 666.30Z" fill="none" stroke="#000000" stroke-width="1.35"/>
<path d="M451.20 663.55L453.40 666.00L451.20 668.45L449.00 666.00Z" fill="none" stroke="#000000" stroke-width="1.35"/>
<path d="M458.00 662.05L460.20 664.50L458.00 666.95L455.80 664.50Z" fill="none" stroke="#000000" stroke-width="1.35"/>
<path d="M466.00 657.55L468.20 660.00L466.00 662.45L463.80 660.00Z" fill="none" stroke="#000000" stroke-width="1.35"/>
<path d="M475.00 649.45L477.20 651.90L475.00 654.35L472.80 651.90Z" fill="none" stroke="#FF0000" stroke-width="1.35"/>
<path d="M484.90 639.35L487.10 641.80L484.90 644.25L482.70 641.80Z" fill="none" stroke="#FF0000" stroke-width="1.35"/>
<path d="M497.50 627.85L499.70 630.30L497.50 632.75L495.30 630.30Z" fill="none" stroke="#FF0000" stroke-width="1.35"/>
<path d="M504.80 619.35L507.00 621.80L504.80 624.25L502.60 621.80Z" fill="none" stroke="#FF0000" stroke-width="1.35"/>
<path d="M512.00 610.15L514.20 612.60L512.00 615.05L509.80 612.60Z" fill="none" stroke="#FF0000" stroke-width="1.35"/>
<path d="M518.20 602.35L520.40 604.80L518.20 607.25L516.00 604.80Z" fill="none" stroke="#FF0000" stroke-width="1.35"/>
<path d="M528.70 589.25L530.90 591.70L528.70 594.15L526.50 591.70Z" fill="none" stroke="#FF0000" stroke-width="1.35"/>
<path d="M539.60 575.35L541.80 577.80L539.60 580.25L537.40 577.80Z" fill="none" stroke="#1F6FC4" stroke-width="1.35"/>
<path d="M546.60 564.75L548.80 567.20L546.60 569.65L544.40 567.20Z" fill="none" stroke="#1F6FC4" stroke-width="1.35"/>
<path d="M550.20 559.55L552.40 562.00L550.20 564.45L548.00 562.00Z" fill="none" stroke="#1F6FC4" stroke-width="1.35"/>
<path d="M554.60 553.75L556.80 556.20L554.60 558.65L552.40 556.20Z" fill="none" stroke="#1F6FC4" stroke-width="1.35"/>
<path d="M557.50 550.85L559.70 553.30L557.50 555.75L555.30 553.30Z" fill="none" stroke="#1F6FC4" stroke-width="1.35"/>
<path d="M561.60 543.55L563.80 546.00L561.60 548.45L559.40 546.00Z" fill="none" stroke="#1F6FC4" stroke-width="1.35"/>
<path d="M566.30 534.05L568.50 536.50L566.30 538.95L564.10 536.50Z" fill="none" stroke="#1F6FC4" stroke-width="1.35"/>
<path d="M569.90 528.25L572.10 530.70L569.90 533.15L567.70 530.70Z" fill="none" stroke="#1F6FC4" stroke-width="1.35"/>
<path d="M571.80 523.12L574.66 526.30L571.80 529.48L568.94 526.30Z" fill="none" stroke="#00B050" stroke-width="1.35"/>
<path d="M574.30 526.72L577.16 529.90L574.30 533.08L571.44 529.90Z" fill="none" stroke="#00B050" stroke-width="1.35"/>
<path d="M574.30 539.12L577.16 542.30L574.30 545.48L571.44 542.30Z" fill="none" stroke="#00B050" stroke-width="1.35"/>
<path d="M574.20 547.22L577.06 550.40L574.20 553.58L571.34 550.40Z" fill="none" stroke="#00B050" stroke-width="1.35"/>
<path d="M573.90 556.62L576.76 559.80L573.90 562.98L571.04 559.80Z" fill="none" stroke="#00B050" stroke-width="1.35"/>
<path d="M573.90 563.92L576.76 567.10L573.90 570.28L571.04 567.10Z" fill="none" stroke="#00B050" stroke-width="1.35"/>
<path d="M573.50 569.32L576.36 572.50L573.50 575.68L570.64 572.50Z" fill="none" stroke="#00B050" stroke-width="1.35"/>
<path d="M584.00 569.62L586.86 572.80L584.00 575.98L581.14 572.80Z" fill="none" stroke="#00B050" stroke-width="1.35"/>
<path d="M589.00 569.32L591.86 572.50L589.00 575.68L586.14 572.50Z" fill="none" stroke="#00B050" stroke-width="1.35"/>
<path d="M588.50 574.02L591.36 577.20L588.50 580.38L585.64 577.20Z" fill="none" stroke="#00B050" stroke-width="1.35"/>
<path d="M588.50 579.92L591.36 583.10L588.50 586.28L585.64 583.10Z" fill="none" stroke="#00B050" stroke-width="1.35"/>
<path d="M590.70 586.42L593.56 589.60L590.70 592.78L587.84 589.60Z" fill="none" stroke="#00B050" stroke-width="1.35"/>
<path d="M593.60 589.42L596.46 592.60L593.60 595.78L590.74 592.60Z" fill="none" stroke="#00B050" stroke-width="1.35"/>
<path d="M598.00 590.82L600.86 594.00L598.00 597.18L595.14 594.00Z" fill="none" stroke="#00B050" stroke-width="1.35"/>
<path d="M600.90 590.82L603.76 594.00L600.90 597.18L598.04 594.00Z" fill="none" stroke="#00B050" stroke-width="1.35"/>
<path d="M407.50 666.30 L455.20 665.70 L461.00 664.50 L467.00 662.50 L472.00 660.50 L484.70 651.50" fill="none" stroke="#000000" stroke-width="1.15" stroke-linejoin="round" stroke-linecap="round"/>
<path d="M484.70 651.50 L489.50 650.00 L496.00 646.00 L503.20 641.90 L513.30 636.00 L521.00 630.50 L530.30 624.90 L536.80 619.50 L543.40 613.30 L551.60 606.10 L556.90 601.40" fill="none" stroke="#FF0000" stroke-width="1.15" stroke-linejoin="round" stroke-linecap="round"/>
<path d="M556.90 601.40 L561.90 594.00 L566.00 587.60 L571.20 581.90 L575.00 578.00 L579.50 577.00" fill="none" stroke="#1F6FC4" stroke-width="1.15" stroke-linejoin="round" stroke-linecap="round"/>
<path d="M579.50 577.00 L580.30 584.60 L580.30 591.10 L581.20 602.00 L581.20 610.80 L581.90 616.60 L587.00 621.00 L593.60 621.80 L600.90 622.90" fill="none" stroke="#00B050" stroke-width="1.15" stroke-linejoin="round" stroke-linecap="round"/>
<rect x="405.20" y="664.00" width="4.60" height="4.60" fill="none" stroke="#000000" stroke-width="1.3"/>
<rect x="452.90" y="663.40" width="4.60" height="4.60" fill="none" stroke="#000000" stroke-width="1.3"/>
<rect x="458.70" y="662.20" width="4.60" height="4.60" fill="none" stroke="#000000" stroke-width="1.3"/>
<rect x="464.70" y="660.20" width="4.60" height="4.60" fill="none" stroke="#000000" stroke-width="1.3"/>
<rect x="469.70" y="658.20" width="4.60" height="4.60" fill="none" stroke="#000000" stroke-width="1.3"/>
<rect x="482.40" y="649.20" width="4.60" height="4.60" fill="none" stroke="#FF0000" stroke-width="1.3"/>
<rect x="487.20" y="647.70" width="4.60" height="4.60" fill="none" stroke="#FF0000" stroke-width="1.3"/>
<rect x="493.70" y="643.70" width="4.60" height="4.60" fill="none" stroke="#FF0000" stroke-width="1.3"/>
<rect x="500.90" y="639.60" width="4.60" height="4.60" fill="none" stroke="#FF0000" stroke-width="1.3"/>
<rect x="511.00" y="633.70" width="4.60" height="4.60" fill="none" stroke="#FF0000" stroke-width="1.3"/>
<rect x="518.70" y="628.20" width="4.60" height="4.60" fill="none" stroke="#FF0000" stroke-width="1.3"/>
<rect x="528.00" y="622.60" width="4.60" height="4.60" fill="none" stroke="#FF0000" stroke-width="1.3"/>
<rect x="534.50" y="617.20" width="4.60" height="4.60" fill="none" stroke="#FF0000" stroke-width="1.3"/>
<rect x="541.10" y="611.00" width="4.60" height="4.60" fill="none" stroke="#FF0000" stroke-width="1.3"/>
<rect x="549.30" y="603.80" width="4.60" height="4.60" fill="none" stroke="#FF0000" stroke-width="1.3"/>
<rect x="554.60" y="599.10" width="4.60" height="4.60" fill="none" stroke="#1F6FC4" stroke-width="1.3"/>
<rect x="559.60" y="591.70" width="4.60" height="4.60" fill="none" stroke="#1F6FC4" stroke-width="1.3"/>
<rect x="563.70" y="585.30" width="4.60" height="4.60" fill="none" stroke="#1F6FC4" stroke-width="1.3"/>
<rect x="568.90" y="579.60" width="4.60" height="4.60" fill="none" stroke="#1F6FC4" stroke-width="1.3"/>
<rect x="572.70" y="575.70" width="4.60" height="4.60" fill="none" stroke="#1F6FC4" stroke-width="1.3"/>
<rect x="576.97" y="574.47" width="5.06" height="5.06" fill="none" stroke="#00B050" stroke-width="1.3"/>
<rect x="577.77" y="582.07" width="5.06" height="5.06" fill="none" stroke="#00B050" stroke-width="1.3"/>
<rect x="577.77" y="588.57" width="5.06" height="5.06" fill="none" stroke="#00B050" stroke-width="1.3"/>
<rect x="578.67" y="599.47" width="5.06" height="5.06" fill="none" stroke="#00B050" stroke-width="1.3"/>
<rect x="578.67" y="608.27" width="5.06" height="5.06" fill="none" stroke="#00B050" stroke-width="1.3"/>
<rect x="579.37" y="614.07" width="5.06" height="5.06" fill="none" stroke="#00B050" stroke-width="1.3"/>
<rect x="584.47" y="618.47" width="5.06" height="5.06" fill="none" stroke="#00B050" stroke-width="1.3"/>
<rect x="591.07" y="619.27" width="5.06" height="5.06" fill="none" stroke="#00B050" stroke-width="1.3"/>
<rect x="598.37" y="620.37" width="5.06" height="5.06" fill="none" stroke="#00B050" stroke-width="1.3"/>
<path d="M407.50 666.40 L451.20 666.30 L459.80 665.80 L466.00 665.20 L475.00 664.60 L483.90 661.10" fill="none" stroke="#000000" stroke-width="1.15" stroke-linejoin="round" stroke-linecap="round"/>
<path d="M483.90 661.10 L493.30 657.50 L502.50 652.70 L514.10 646.60 L518.70 643.20" fill="none" stroke="#FF0000" stroke-width="1.15" stroke-linejoin="round" stroke-linecap="round"/>
<path d="M518.70 643.20 L525.60 639.60 L531.60 637.20 L538.40 633.20 L544.80 629.90 L552.00 628.90 L555.00 633.00 L562.70 631.50 L568.30 628.90" fill="none" stroke="#1F6FC4" stroke-width="1.15" stroke-linejoin="round" stroke-linecap="round"/>
<path d="M568.30 628.90 L569.30 637.10 L569.90 643.20 L570.90 648.30" fill="none" stroke="#00B050" stroke-width="1.15" stroke-linejoin="round" stroke-linecap="round"/>
<path d="M407.50 663.90L410.10 668.90L404.90 668.90Z" fill="none" stroke="#000000" stroke-width="1.3" stroke-linejoin="miter"/>
<path d="M451.20 663.80L453.80 668.80L448.60 668.80Z" fill="none" stroke="#000000" stroke-width="1.3" stroke-linejoin="miter"/>
<path d="M459.80 663.30L462.40 668.30L457.20 668.30Z" fill="none" stroke="#000000" stroke-width="1.3" stroke-linejoin="miter"/>
<path d="M466.00 662.70L468.60 667.70L463.40 667.70Z" fill="none" stroke="#000000" stroke-width="1.3" stroke-linejoin="miter"/>
<path d="M475.00 662.10L477.60 667.10L472.40 667.10Z" fill="none" stroke="#000000" stroke-width="1.3" stroke-linejoin="miter"/>
<path d="M483.90 658.60L486.50 663.60L481.30 663.60Z" fill="none" stroke="#FF0000" stroke-width="1.3" stroke-linejoin="miter"/>
<path d="M493.30 655.00L495.90 660.00L490.70 660.00Z" fill="none" stroke="#FF0000" stroke-width="1.3" stroke-linejoin="miter"/>
<path d="M502.50 650.20L505.10 655.20L499.90 655.20Z" fill="none" stroke="#FF0000" stroke-width="1.3" stroke-linejoin="miter"/>
<path d="M514.10 644.10L516.70 649.10L511.50 649.10Z" fill="none" stroke="#FF0000" stroke-width="1.3" stroke-linejoin="miter"/>
<path d="M518.70 640.70L521.30 645.70L516.10 645.70Z" fill="none" stroke="#1F6FC4" stroke-width="1.3" stroke-linejoin="miter"/>
<path d="M525.60 637.10L528.20 642.10L523.00 642.10Z" fill="none" stroke="#1F6FC4" stroke-width="1.3" stroke-linejoin="miter"/>
<path d="M531.60 634.70L534.20 639.70L529.00 639.70Z" fill="none" stroke="#1F6FC4" stroke-width="1.3" stroke-linejoin="miter"/>
<path d="M538.40 630.70L541.00 635.70L535.80 635.70Z" fill="none" stroke="#1F6FC4" stroke-width="1.3" stroke-linejoin="miter"/>
<path d="M544.80 627.40L547.40 632.40L542.20 632.40Z" fill="none" stroke="#1F6FC4" stroke-width="1.3" stroke-linejoin="miter"/>
<path d="M552.00 626.40L554.60 631.40L549.40 631.40Z" fill="none" stroke="#1F6FC4" stroke-width="1.3" stroke-linejoin="miter"/>
<path d="M555.00 630.50L557.60 635.50L552.40 635.50Z" fill="none" stroke="#1F6FC4" stroke-width="1.3" stroke-linejoin="miter"/>
<path d="M562.70 629.00L565.30 634.00L560.10 634.00Z" fill="none" stroke="#1F6FC4" stroke-width="1.3" stroke-linejoin="miter"/>
<path d="M568.30 626.15L571.16 631.65L565.44 631.65Z" fill="none" stroke="#00B050" stroke-width="1.3" stroke-linejoin="miter"/>
<path d="M569.30 634.35L572.16 639.85L566.44 639.85Z" fill="none" stroke="#00B050" stroke-width="1.3" stroke-linejoin="miter"/>
<path d="M569.90 640.45L572.76 645.95L567.04 645.95Z" fill="none" stroke="#00B050" stroke-width="1.3" stroke-linejoin="miter"/>
<path d="M570.90 645.55L573.76 651.05L568.04 651.05Z" fill="none" stroke="#00B050" stroke-width="1.3" stroke-linejoin="miter"/>
</svg></body></html>
